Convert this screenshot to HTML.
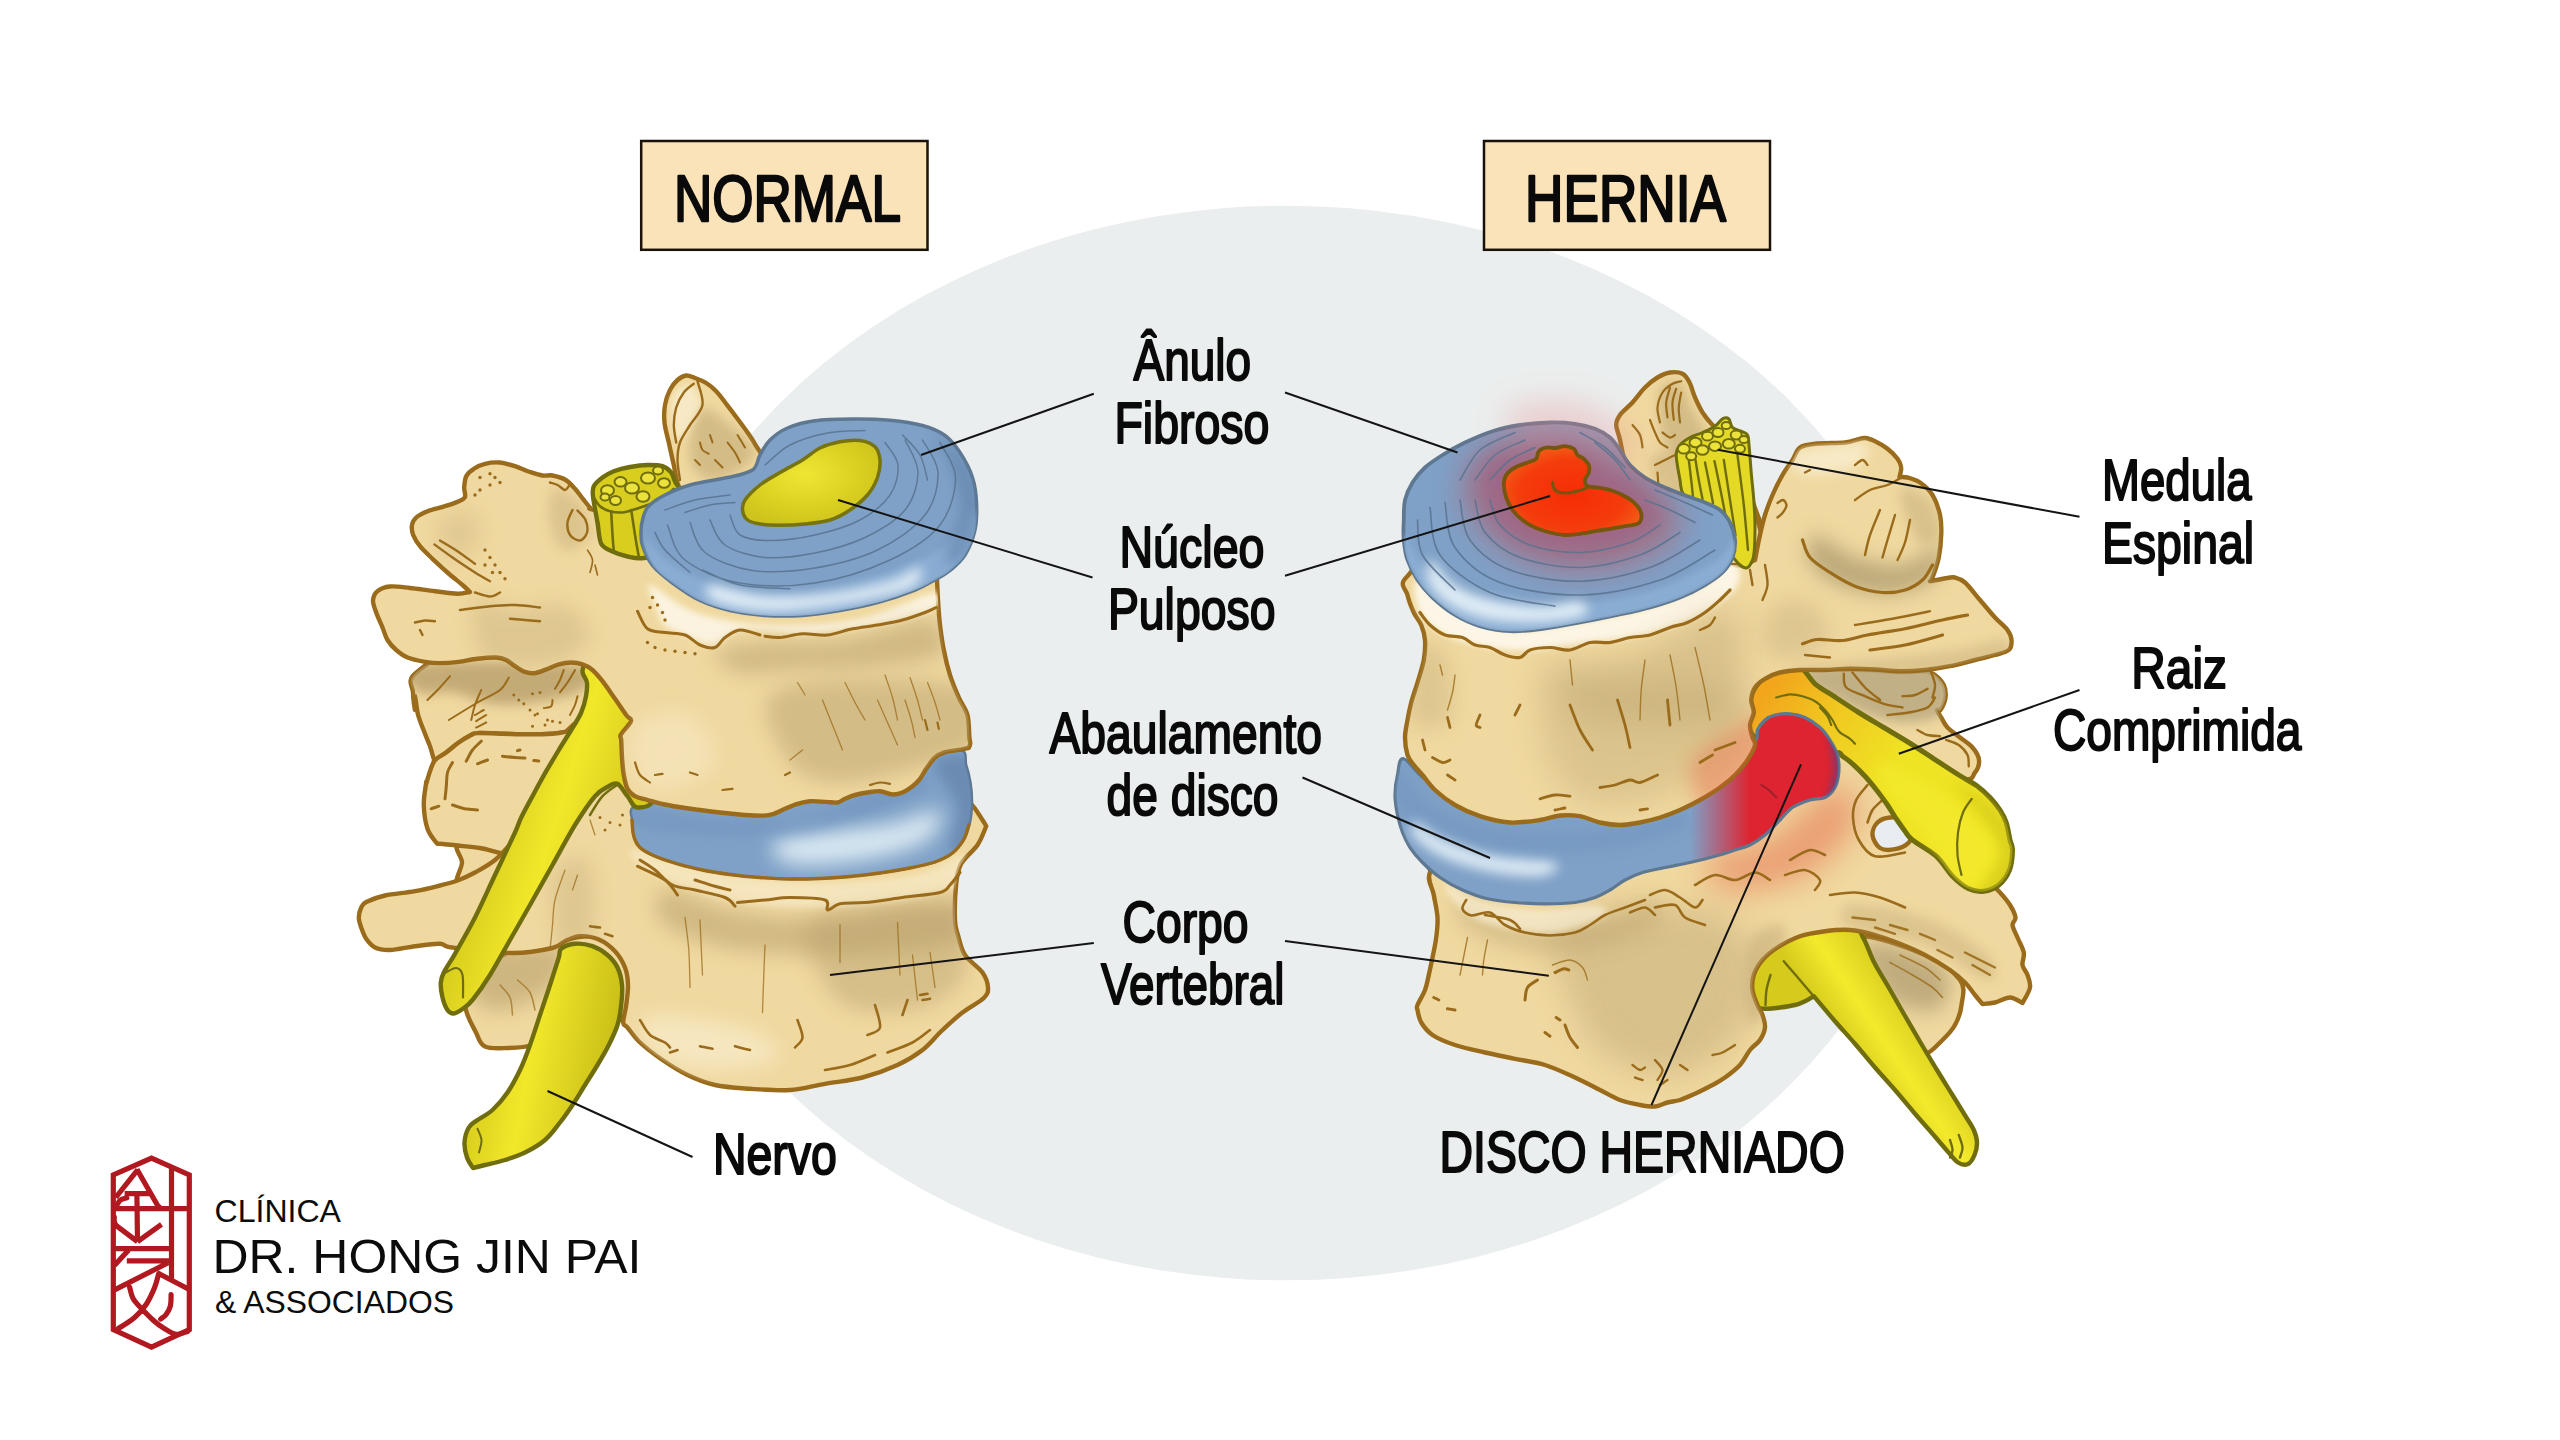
<!DOCTYPE html>
<html lang="pt-BR"><head><meta charset="utf-8"><title>Hernia de disco</title>
<style>html,body{margin:0;padding:0;background:#fff}body{width:2560px;height:1440px;overflow:hidden}svg{display:block}</style>
</head><body>
<svg width="2560" height="1440" viewBox="0 0 2560 1440">
<rect width="2560" height="1440" fill="#ffffff"/><ellipse cx="1286" cy="743" rx="653.5" ry="537.3" fill="#ebeeee"/>
<defs><filter id="b3" x="-30%" y="-30%" width="160%" height="160%"><feGaussianBlur stdDeviation="3"/></filter><filter id="b6" x="-30%" y="-30%" width="160%" height="160%"><feGaussianBlur stdDeviation="6"/></filter><filter id="b10" x="-40%" y="-40%" width="180%" height="180%"><feGaussianBlur stdDeviation="10"/></filter><filter id="b16" x="-50%" y="-50%" width="200%" height="200%"><feGaussianBlur stdDeviation="16"/></filter><radialGradient id="nucg" cx="0.45" cy="0.4" r="0.6"><stop offset="0" stop-color="#efe634"/><stop offset="0.6" stop-color="#dcd222"/><stop offset="1" stop-color="#cfc41c"/></radialGradient><linearGradient id="nrv1" x1="0.2" y1="0.3" x2="0.8" y2="0.6"><stop offset="0" stop-color="#cfc418"/><stop offset="0.55" stop-color="#f2e82a"/><stop offset="1" stop-color="#d6cb1c"/></linearGradient><linearGradient id="nrv2" x1="0.1" y1="0.4" x2="0.9" y2="0.6"><stop offset="0" stop-color="#d8cd1c"/><stop offset="0.4" stop-color="#f2e82a"/><stop offset="1" stop-color="#cbc018"/></linearGradient><clipPath id="cL_low"><path d="M366.2 902C370.2 900 376.9 897.3 385 895.5C393.1 893.7 405.8 892.9 415 891.2C424.2 889.6 432.9 887.3 440 885.5C447.1 883.7 451.7 882.7 457.5 880.5C463.3 878.3 468.8 875.9 475 872.5C481.2 869.1 488.3 865.4 495 860C501.7 854.6 503.3 850.8 515 840C526.7 829.2 548.3 804.6 565 795C581.7 785.4 594.2 784.6 615 782.5C635.8 780.4 635.8 783.8 690 782.5C744.2 781.2 893.3 771.7 940 775C986.7 778.3 962.9 795 970 802.5C977.1 810 979.8 816 982.5 820C985.2 824 985.6 825.2 986.2 826.2C984.8 829.4 981.7 838.8 977.5 845C973.3 851.2 964.8 857.3 961.2 863.8C957.7 870.2 957.3 874.4 956.2 883.8C955.2 893.1 954.7 911.5 955 920C955.3 928.5 956.3 929.2 958 935C959.7 940.8 960.9 948.8 965 955C969.1 961.2 978.7 967.1 982.5 972.5C986.3 977.9 987.8 983.2 988 987.5C988.2 991.8 988 993.8 983.8 998C979.5 1002.2 969.4 1007.2 962.5 1012.5C955.6 1017.8 949.2 1023.8 942.5 1030C935.8 1036.2 930 1044.2 922.5 1050C915 1055.8 907.5 1060.4 897.5 1065C887.5 1069.6 874.6 1074.4 862.5 1077.5C850.4 1080.6 837.1 1081.7 825 1083.8C812.9 1085.8 802.5 1089.2 790 1090C777.5 1090.8 762.5 1089.6 750 1088.8C737.5 1087.9 725.4 1087.3 715 1085C704.6 1082.7 696.2 1079.2 687.5 1075C678.8 1070.8 670.4 1065.4 662.5 1060C654.6 1054.6 645.8 1047.9 640 1042.5C634.2 1037.1 630.3 1030.8 627.5 1027.5C624.7 1024.2 623.5 1026.2 623.2 1022.5C623 1018.8 625.5 1011.2 626.2 1005C627 998.8 628.2 991.2 628 985C627.8 978.8 627.2 973.1 625 967.5C622.8 961.9 619.4 955.9 615 951.2C610.6 946.6 604.6 942 598.8 939.5C592.9 937 585.6 936 580 936.2C574.4 936.5 569.6 939.3 565 941.2C560.4 943.2 561.2 946 552.5 948C543.8 950 529.2 953.1 512.5 953C495.8 952.9 464.6 949 452.5 947.5C440.4 946 446.2 944 440 943.8C433.8 943.5 423.3 945.2 415 946.2C406.7 947.3 396.7 949.8 390 950C383.3 950.2 379 949.4 375 947.5C371 945.6 368.5 942.1 366.2 938.8C364 935.4 362.5 931 361.2 927.5C360 924 358.8 920.8 358.8 917.5C358.8 914.2 360 910.1 361.2 907.5C362.5 904.9 362.3 904 366.2 902Z"/></clipPath><clipPath id="cL_up"><path d="M373 600.5C373.2 597 374.7 593.6 377.5 591.2C380.3 588.9 384.6 587 390 586.5C395.4 586 402.5 587.2 410 588C417.5 588.8 427.1 590.3 435 591.2C442.9 592.2 451.7 593.6 457.5 593.8C463.3 593.9 467.9 592.3 470 592C468.8 590.8 466.2 588.2 462.5 585C458.8 581.8 452.5 576.9 447.5 572.5C442.5 568.1 437.1 563.1 432.5 558.8C427.9 554.4 423.2 550.2 420 546.2C416.8 542.3 414.6 538.5 413.2 535C411.9 531.5 411.5 527.9 412 525C412.5 522.1 413.7 519.8 416.2 517.5C418.8 515.2 422.7 513.1 427.5 511.2C432.3 509.4 439.8 507.9 445 506.2C450.2 504.6 455.4 502.8 458.8 501.2C462.1 499.7 464.1 499.3 465 497C465.9 494.7 464 491 464.2 487.5C464.5 484 464.7 479.4 466.2 476.2C467.8 473.1 470.6 470.8 473.8 468.8C476.9 466.7 480.6 464.8 485 463.8C489.4 462.7 495 462.1 500 462.5C505 462.9 510 464.7 515 466.2C520 467.8 525.4 470.5 530 472C534.6 473.5 538.8 474.9 542.5 475.5C546.2 476.1 548.8 474.8 552.5 475.5C556.2 476.2 561.2 477.3 565 479.5C568.8 481.7 571.9 485.3 575 488.8C578.1 492.2 581.2 496.9 583.8 500C586.2 503.1 588.3 505.8 590 507.5C591.7 509.2 585.4 507.5 593.8 510C602.1 512.5 619.8 522.5 640 522.5C660.2 522.5 681.7 516.2 715 510C748.3 503.8 803.3 480.8 840 485C876.7 489.2 918.8 519.2 935 535C951.2 550.8 936.5 568.7 937 579.5C937.5 590.3 937.5 592.4 938 600C938.5 607.6 939 616.7 940 625C941 633.3 942.1 641.7 943.8 650C945.4 658.3 947.5 667.1 950 675C952.5 682.9 955.8 690.8 958.8 697.5C961.7 704.2 965.7 708.3 967.5 715C969.3 721.7 968.9 732.7 969.4 737.5C969.8 742.3 970.4 742 970.2 743.8C970.1 745.5 969 747.1 968.8 747.8C966.9 748.2 961.5 749.5 957.5 750.2C953.5 751 948.8 751 945 752.2C941.2 753.5 938.1 754.8 935 757.5C931.9 760.2 928.8 765.2 926.2 768.8C923.8 772.3 922.3 775.8 920 778.8C917.7 781.7 915.4 784 912.5 786.2C909.6 788.5 905.8 791.1 902.5 792.5C899.2 793.9 896.2 794.6 892.5 794.4C888.8 794.2 884.2 791.6 880 791.2C875.8 790.9 871.7 791.9 867.5 792.5C863.3 793.1 858.8 794 855 795C851.2 796 847.9 797.5 845 798.8C842.1 800 840.6 802 837.5 802.5C834.4 803 830.8 802.1 826.2 801.9C821.7 801.7 814.8 800.9 810 801.2C805.2 801.6 801.7 802.5 797.5 803.8C793.3 805 789 807.1 785 808.8C781 810.4 777.3 812.6 773.8 813.8C770.2 814.9 768.5 815.4 763.8 815.6C759 815.8 752.3 815.5 745 815C737.7 814.5 727.5 813.3 720 812.5C712.5 811.7 705.8 810.8 700 810C694.2 809.2 690.8 808.9 685 808C679.2 807.1 671.2 805.8 665 804.5C658.8 803.2 652.5 801.4 647.5 800C642.5 798.6 638.3 798.1 635 796.2C631.7 794.4 629.4 792.3 627.5 788.8C625.6 785.2 624.7 780.2 623.8 775C622.8 769.8 622.4 763.3 622 757.5C621.6 751.7 621.5 743.8 621.2 740C621 736.2 619.6 737.3 620.6 735C621.7 732.7 625.7 728.8 627.5 726.2C629.3 723.8 631.5 721.9 631.2 720C631 718.1 629 718.5 626.2 715C623.5 711.5 619 704.4 615 698.8C611 693.1 606.2 686 602.5 681.2C598.8 676.5 595.8 672.8 592.5 670C589.2 667.2 586 665.6 582.5 664.4C579 663.1 575.2 662.5 571.2 662.5C567.3 662.5 562.9 663.2 558.8 664.4C554.6 665.5 550.2 667.9 546.2 669.4C542.3 670.8 538.5 672.7 535 673.1C531.5 673.5 528.3 673 525 671.9C521.7 670.7 518.1 668.2 515 666.2C511.9 664.3 509.4 661.5 506.2 660C503.1 658.5 501 657.7 496.2 657.5C491.5 657.3 483.8 658 477.5 658.8C471.2 659.5 465 661.1 458.8 661.9C452.5 662.6 445.6 663.1 440 663.1C434.4 663.1 430.4 662.8 425 661.9C419.6 660.9 412.3 659.5 407.5 657.5C402.7 655.5 399.6 652.9 396.2 650C392.9 647.1 389.8 643.8 387.5 640C385.2 636.2 384.4 632.1 382.5 627.5C380.6 622.9 377.8 617 376.2 612.5C374.7 608 372.8 604 373 600.5Z"/></clipPath><clipPath id="cL_ud"><path d="M642.5 520C643.6 516 644.2 511.5 647.5 507.5C650.8 503.5 655.4 500 662.5 496.2C669.6 492.5 679.2 488.1 690 485C700.8 481.9 717.1 480 727.5 477.5C737.9 475 747.1 473.8 752.5 470C757.9 466.2 757.1 460 760 455C762.9 450 765.4 444.5 770 440C774.6 435.5 780 431.2 787.5 428C795 424.8 804.2 422.2 815 420.8C825.8 419.2 840 419.1 852.5 419C865 418.9 878.3 419.2 890 420.2C901.7 421.3 913.3 423 922.5 425.5C931.7 428 938.8 431 945 435.5C951.2 440 955.4 445.5 960 452.5C964.6 459.5 969.8 469.2 972.5 477.5C975.2 485.8 976.1 493.8 976.5 502.5C976.9 511.2 976.9 521.2 975 530C973.1 538.8 969.2 548.2 965 555C960.8 561.8 954.8 566.5 950 570.5C945.2 574.5 942.1 576 936.2 579.2C930.4 582.5 924.8 586.1 915 590C905.2 593.9 890 599.1 877.5 602.5C865 605.9 852.5 608.3 840 610.5C827.5 612.7 815 614.7 802.5 615.5C790 616.3 777.1 616.3 765 615.5C752.9 614.7 740.8 613 730 610.5C719.2 608 709.6 605.1 700 600.5C690.4 595.9 680.4 588.8 672.5 583C664.6 577.2 657.5 571.8 652.5 565.5C647.5 559.2 644.4 551.2 642.5 545.5C640.6 539.8 641 535.5 641 531.2C641 527 641.4 524 642.5 520Z"/></clipPath><clipPath id="cL_md"><path d="M633.8 806.2C628.2 810.8 632 815 632 820C632 825 632.4 831.7 633.8 836.2C635.1 840.8 636.5 844.2 640 847.5C643.5 850.8 648.8 853.5 655 856.2C661.2 859 669.6 861.5 677.5 863.8C685.4 866 693.8 868.2 702.5 870C711.2 871.8 720.4 873.2 730 874.5C739.6 875.8 750 876.8 760 877.5C770 878.2 780 878.8 790 879C800 879.2 810 878.9 820 878.5C830 878.1 840 877.4 850 876.5C860 875.6 870 874.4 880 873C890 871.6 900.8 869.8 910 868C919.2 866.2 927.9 864.5 935 862C942.1 859.5 947.7 856.8 952.5 853C957.3 849.2 960.8 844.6 963.8 839.5C966.7 834.4 968.6 828.7 970 822.5C971.4 816.3 971.9 809.2 972 802.5C972.1 795.8 971.5 788.8 970.5 782.5C969.5 776.2 968 770.4 966.2 765C964.5 759.6 968.5 751.2 960 750C951.5 748.8 943.3 750 915 757.5C886.7 765 831.7 789.2 790 795C748.3 800.8 691 790.6 665 792.5C639 794.4 639.2 801.7 633.8 806.2Z"/></clipPath><clipPath id="cL_b1"><path d="M415 673.8C406.3 681.2 413 686.5 413 692.5C413 698.5 414.7 709.4 415 710C415.3 710.6 414.5 695.4 415 696.2C415.5 697.1 416.5 708.8 418.1 715C419.8 721.2 423 728.5 425 733.8C427 739 428.5 742.1 430 746.2C431.5 750.4 432.9 756.4 433.8 758.8C434.6 761.1 432.9 761.3 435 760.2C437.1 759.2 442.3 755.5 446.2 752.5C450.2 749.5 454.6 745.4 458.8 742.5C462.9 739.6 468.1 736.6 471.2 735C474.4 733.4 472.3 733.3 477.5 733.1C482.7 732.9 494.2 733.5 502.5 733.8C510.8 734 519.2 734.4 527.5 734.4C535.8 734.4 546.2 734.2 552.5 733.8C558.8 733.3 560.8 733.1 565 731.9C569.2 730.6 573.3 733.2 577.5 726.2C581.7 719.3 587.9 700.2 590 690C592.1 679.8 594.2 672.1 590 665C585.8 657.9 585.8 650.4 565 647.5C544.2 644.6 490 643.1 465 647.5C440 651.9 423.7 666.2 415 673.8Z"/></clipPath><clipPath id="cL_b2"><path d="M435 760.2C437.7 757.1 442.3 755.5 446.2 752.5C450.2 749.5 454.6 745.4 458.8 742.5C462.9 739.6 468.1 736.6 471.2 735C474.4 733.4 472.3 733.3 477.5 733.1C482.7 732.9 494.2 733.5 502.5 733.8C510.8 734 519.2 734.4 527.5 734.4C535.8 734.4 546.2 734.2 552.5 733.8C558.8 733.3 560.8 732.9 565 731.9C569.2 730.8 577.5 716.1 577.5 727.5C577.5 738.9 575.4 778.8 565 800C554.6 821.2 525.8 846.2 515 855C504.2 863.8 505.8 854.2 500 853C494.2 851.8 487.1 849.2 480 848C472.9 846.8 464.2 846.2 457.5 845.5C450.8 844.8 443.5 844.2 440 843.8C436.5 843.2 438.3 845 436.2 842.5C434.2 840 429.6 835 427.5 828.8C425.4 822.5 424 812.7 423.8 805C423.5 797.3 425.8 786 426.2 782.5C426.7 779 425.6 785.6 426.2 783.8C426.9 781.9 428.5 775.2 430 771.2C431.5 767.3 432.3 763.4 435 760.2Z"/></clipPath><clipPath id="cL_sa"><path d="M678.8 486.2C676 481.2 675.4 472.3 673.8 465C672.1 457.7 670.3 449.6 668.8 442.5C667.2 435.4 665.1 428.8 664.5 422.5C663.9 416.2 664.1 410.4 665 405C665.9 399.6 667.9 394.2 670 390C672.1 385.8 674.8 382.4 677.5 380C680.2 377.6 683.3 375.8 686.2 375.5C689.2 375.2 691.7 376.8 695 378C698.3 379.2 702.7 380.8 706.2 383C709.8 385.2 712.9 387.8 716.2 391.2C719.6 394.7 722.7 399.2 726.2 403.8C729.8 408.3 734 414 737.5 418.8C741 423.5 744.5 428.1 747.5 432.5C750.5 436.9 752.6 439.6 755.5 445C758.4 450.4 765.9 457.5 765 465C764.1 472.5 758.3 485 750 490C741.7 495 725 494.2 715 495C705 495.8 696 496.5 690 495C684 493.5 681.5 491.2 678.8 486.2Z"/></clipPath><clipPath id="cL_bl"><path d="M465.5 1006.2C465.3 997.4 467.6 989.2 475 980C482.4 970.8 495.4 957.9 510 951.2C524.6 944.6 547.5 942.3 562.5 940C577.5 937.7 589.6 933.8 600 937.5C610.4 941.2 620.2 953.3 625 962.5C629.8 971.7 629.6 982.9 628.8 992.5C627.9 1002.1 629 1013.8 620 1020C611 1026.2 587.9 1027.5 575 1030C562.1 1032.5 549.6 1032.5 542.5 1035C535.4 1037.5 538.3 1042.8 532.5 1045C526.7 1047.2 515.4 1047.8 507.5 1048C499.6 1048.2 490.2 1049 485 1046.5C479.8 1044 479.5 1039.7 476.2 1033C473 1026.3 465.7 1015.1 465.5 1006.2Z"/></clipPath><clipPath id="cL_n1"><path d="M582.5 671.2C582.2 675.2 586.3 678.3 586.9 682.5C587.5 686.7 586.9 691.2 586 696.2C585.1 701.2 583.7 706.9 581.2 712.5C578.8 718.1 575 723.8 571.2 730C567.5 736.2 562.9 743.1 558.8 750C554.6 756.9 550.4 764 546.2 771.2C542.1 778.5 537.9 786 533.8 793.8C529.6 801.5 524.4 811 521.2 817.5C518.1 824 519.4 822.9 515 832.5C510.6 842.1 501.7 860.8 495 875C488.3 889.2 481.7 904.4 475 917.5C468.3 930.6 460.2 944.6 455 953.8C449.8 962.9 446.1 967.7 443.8 972.5C441.4 977.3 441 978.3 440.8 982.5C440.5 986.7 441.4 992.9 442.5 997.5C443.6 1002.1 445.6 1007.3 447.5 1010C449.4 1012.7 451.2 1013.7 453.8 1013.5C456.2 1013.3 459.4 1011.2 462.5 1009C465.6 1006.8 467.9 1005.7 472.5 1000C477.1 994.3 483.8 985 490 975C496.2 965 503.3 951.7 510 940C516.7 928.3 522.9 917.5 530 905C537.1 892.5 545 878.3 552.5 865C560 851.7 567.9 836.5 575 825C582.1 813.5 589.4 802.7 595 796.2C600.6 789.8 605 788.3 608.8 786.2C612.5 784.2 614.4 782.1 617.5 783.8C620.6 785.4 624.2 792.3 627.5 796.2C630.8 800.2 632.9 807.7 637.5 807.5C642.1 807.3 652.1 808.8 655 795C657.9 781.2 656.5 738.3 655 725C653.5 711.7 652.9 725 646.2 715C639.6 705 624.6 674.4 615 665C605.4 655.6 594.2 657.7 588.8 658.8C583.3 659.8 582.8 667.3 582.5 671.2Z"/></clipPath><clipPath id="cL_n2"><path d="M561.2 948.8C564 946.5 569.8 944.2 575 943.8C580.2 943.3 587.1 944.4 592.5 946.2C597.9 948.1 603.3 951.5 607.5 955C611.7 958.5 615.1 962.5 617.5 967.5C619.9 972.5 621.4 978.8 622 985C622.6 991.2 622 998.3 621.2 1005C620.5 1011.7 619.6 1018.3 617.5 1025C615.4 1031.7 612.1 1038.3 608.8 1045C605.4 1051.7 601.5 1058.3 597.5 1065C593.5 1071.7 589.2 1078.3 585 1085C580.8 1091.7 576.7 1098.8 572.5 1105C568.3 1111.2 564.6 1116.7 560 1122.5C555.4 1128.3 550.8 1135 545 1140C539.2 1145 531.7 1149.2 525 1152.5C518.3 1155.8 511.7 1157.9 505 1160C498.3 1162.1 490.3 1163.7 485 1165C479.7 1166.3 475 1167.5 473 1168C472 1166.2 468.4 1161.8 467 1157.5C465.6 1153.2 464.2 1147.5 464.5 1142.5C464.8 1137.5 466.6 1131.2 468.8 1127.5C470.9 1123.8 473.5 1122.9 477.5 1120C481.5 1117.1 487.5 1114.6 492.5 1110C497.5 1105.4 502.9 1099.2 507.5 1092.5C512.1 1085.8 516.2 1077.9 520 1070C523.8 1062.1 526.7 1054.2 530 1045C533.3 1035.8 536.7 1025 540 1015C543.3 1005 546.9 994.6 550 985C553.1 975.4 556.9 963.5 558.8 957.5C560.6 951.5 558.5 951 561.2 948.8Z"/></clipPath></defs>
<g id="leftfig">
<path d="M465.5 1006.2C465.3 997.4 467.6 989.2 475 980C482.4 970.8 495.4 957.9 510 951.2C524.6 944.6 547.5 942.3 562.5 940C577.5 937.7 589.6 933.8 600 937.5C610.4 941.2 620.2 953.3 625 962.5C629.8 971.7 629.6 982.9 628.8 992.5C627.9 1002.1 629 1013.8 620 1020C611 1026.2 587.9 1027.5 575 1030C562.1 1032.5 549.6 1032.5 542.5 1035C535.4 1037.5 538.3 1042.8 532.5 1045C526.7 1047.2 515.4 1047.8 507.5 1048C499.6 1048.2 490.2 1049 485 1046.5C479.8 1044 479.5 1039.7 476.2 1033C473 1026.3 465.7 1015.1 465.5 1006.2Z" fill="#f0d9a0" stroke="#9a6b1b" stroke-width="4.4" stroke-linejoin="round" stroke-linecap="round" />
<g clip-path="url(#cL_bl)"><path d="M470 955C484.2 945.8 545.8 940 560 945C574.2 950 564.2 974.2 555 985C545.8 995.8 518.3 1007.5 505 1010C491.7 1012.5 480.8 1009.2 475 1000C469.2 990.8 455.8 964.2 470 955Z" fill="#b89f6c" opacity="0.6" filter="url(#b10)"/></g>
<path d="M500 985C501.7 987.1 507.9 992.5 510 997.5C512.1 1002.5 512.1 1012.1 512.5 1015 M517.5 980C519.6 982.1 527.1 987.5 530 992.5C532.9 997.5 534.2 1007.1 535 1010" fill="none" stroke="#9a6b1b" stroke-width="1.5" stroke-linecap="round" stroke-linejoin="round" opacity="0.7"/>
<path d="M459.5 843.8C467.5 840.6 502.4 841 510 843.8C517.6 846.5 510 854.6 505 860C500 865.4 487.9 872.6 480 876.2C472.1 879.9 460.5 884.3 457.5 882C454.5 879.7 461.7 868.9 462 862.5C462.3 856.1 451.5 846.9 459.5 843.8Z" fill="#f0d9a0" stroke="#9a6b1b" stroke-width="4.4" stroke-linejoin="round" stroke-linecap="round" />
<path d="M415 673.8C406.3 681.2 413 686.5 413 692.5C413 698.5 414.7 709.4 415 710C415.3 710.6 414.5 695.4 415 696.2C415.5 697.1 416.5 708.8 418.1 715C419.8 721.2 423 728.5 425 733.8C427 739 428.5 742.1 430 746.2C431.5 750.4 432.9 756.4 433.8 758.8C434.6 761.1 432.9 761.3 435 760.2C437.1 759.2 442.3 755.5 446.2 752.5C450.2 749.5 454.6 745.4 458.8 742.5C462.9 739.6 468.1 736.6 471.2 735C474.4 733.4 472.3 733.3 477.5 733.1C482.7 732.9 494.2 733.5 502.5 733.8C510.8 734 519.2 734.4 527.5 734.4C535.8 734.4 546.2 734.2 552.5 733.8C558.8 733.3 560.8 733.1 565 731.9C569.2 730.6 573.3 733.2 577.5 726.2C581.7 719.3 587.9 700.2 590 690C592.1 679.8 594.2 672.1 590 665C585.8 657.9 585.8 650.4 565 647.5C544.2 644.6 490 643.1 465 647.5C440 651.9 423.7 666.2 415 673.8Z" fill="#f0d9a0" stroke="#9a6b1b" stroke-width="4.4" stroke-linejoin="round" stroke-linecap="round" />
<g clip-path="url(#cL_b1)"><path d="M415 665C441.2 660.4 550.4 660.4 577.5 665C604.6 669.6 590 685.8 577.5 692.5C565 699.2 523.3 705 502.5 705C481.7 705 466.2 694.6 452.5 692.5C438.8 690.4 426.2 697.1 420 692.5C413.8 687.9 388.8 669.6 415 665Z" fill="#b89f6c" opacity="0.8" filter="url(#b6)"/></g>
<path d="M450 676.2C448.3 678.1 443.8 683.5 440 687.5C436.2 691.5 429.6 697.9 427.5 700 M508.8 677.5C507.3 679.6 505.2 685.8 500 690C494.8 694.2 486 697.5 477.5 702.5C469 707.5 453.5 717.1 448.8 720 M481.2 690C480.2 692.5 476.7 700 475 705C473.3 710 471.9 717.5 471.2 720 M483.8 710C482.3 710.8 476.5 714.2 475 715 M486.2 715C484.6 716 477.9 720.2 476.2 721.2 M486.2 722.5C484.6 723.3 477.9 726.7 476.2 727.5 M563.8 670C563.1 671.7 561.5 676.9 560 680C558.5 683.1 555.8 687.3 555 688.8 M575 670C573.8 672.1 570 678.8 567.5 682.5C565 686.2 561.2 690.8 560 692.5 M552.5 700C552.3 701 552.7 704.9 551.2 706.2C549.8 707.6 545 707.8 543.8 708.1 M577.5 696.2C577.1 697.7 576.2 701.9 575 705C573.8 708.1 570.8 713.3 570 715" fill="none" stroke="#9a6b1b" stroke-width="2" stroke-linecap="round" stroke-linejoin="round" opacity="1"/>
<circle cx="513.8" cy="695.0" r="1.5" fill="#9a6b1b"/><circle cx="518.8" cy="700.0" r="1.5" fill="#9a6b1b"/><circle cx="523.8" cy="703.8" r="1.5" fill="#9a6b1b"/><circle cx="530.0" cy="710.0" r="1.5" fill="#9a6b1b"/><circle cx="535.0" cy="715.0" r="1.5" fill="#9a6b1b"/><circle cx="532.5" cy="726.2" r="1.5" fill="#9a6b1b"/><circle cx="545.0" cy="725.0" r="1.5" fill="#9a6b1b"/><circle cx="552.5" cy="721.2" r="1.5" fill="#9a6b1b"/><circle cx="560.0" cy="722.5" r="1.5" fill="#9a6b1b"/><circle cx="540.0" cy="692.5" r="1.5" fill="#9a6b1b"/><circle cx="532.5" cy="693.8" r="1.5" fill="#9a6b1b"/><circle cx="537.5" cy="713.8" r="1.5" fill="#9a6b1b"/><circle cx="547.5" cy="720.0" r="1.5" fill="#9a6b1b"/>
<path d="M435 760.2C437.7 757.1 442.3 755.5 446.2 752.5C450.2 749.5 454.6 745.4 458.8 742.5C462.9 739.6 468.1 736.6 471.2 735C474.4 733.4 472.3 733.3 477.5 733.1C482.7 732.9 494.2 733.5 502.5 733.8C510.8 734 519.2 734.4 527.5 734.4C535.8 734.4 546.2 734.2 552.5 733.8C558.8 733.3 560.8 732.9 565 731.9C569.2 730.8 577.5 716.1 577.5 727.5C577.5 738.9 575.4 778.8 565 800C554.6 821.2 525.8 846.2 515 855C504.2 863.8 505.8 854.2 500 853C494.2 851.8 487.1 849.2 480 848C472.9 846.8 464.2 846.2 457.5 845.5C450.8 844.8 443.5 844.2 440 843.8C436.5 843.2 438.3 845 436.2 842.5C434.2 840 429.6 835 427.5 828.8C425.4 822.5 424 812.7 423.8 805C423.5 797.3 425.8 786 426.2 782.5C426.7 779 425.6 785.6 426.2 783.8C426.9 781.9 428.5 775.2 430 771.2C431.5 767.3 432.3 763.4 435 760.2Z" fill="#f0d9a0" stroke="#9a6b1b" stroke-width="4.4" stroke-linejoin="round" stroke-linecap="round" />
<path d="M481.2 741.2C479.8 742.7 475 746.7 472.5 750C470 753.3 467.3 759.4 466.2 761.2 M452.5 762.5C451.7 764.2 448.5 768.3 447.5 772.5C446.5 776.7 446.7 783.1 446.2 787.5C445.8 791.9 445.2 796.9 445 798.8 M502.5 756.2C504.6 756.5 511.2 757.2 515 757.5C518.8 757.8 523.3 758 525 758.1 M452.5 805C454.6 805.6 460.8 807.9 465 808.8C469.2 809.6 475.4 809.8 477.5 810 M431.2 808.8C432.5 808.3 437.5 806.7 438.8 806.2 M520 750C519.6 750.1 517.9 750.5 517.5 750.6 M477.5 763.8C479.2 763.1 485.8 760.6 487.5 760 M533.8 760.6C534.6 760.7 537.9 760.9 538.8 761" fill="none" stroke="#9a6b1b" stroke-width="3" stroke-linecap="round" stroke-linejoin="round" opacity="1"/>
<path d="M366.2 902C370.2 900 376.9 897.3 385 895.5C393.1 893.7 405.8 892.9 415 891.2C424.2 889.6 432.9 887.3 440 885.5C447.1 883.7 451.7 882.7 457.5 880.5C463.3 878.3 468.8 875.9 475 872.5C481.2 869.1 488.3 865.4 495 860C501.7 854.6 503.3 850.8 515 840C526.7 829.2 548.3 804.6 565 795C581.7 785.4 594.2 784.6 615 782.5C635.8 780.4 635.8 783.8 690 782.5C744.2 781.2 893.3 771.7 940 775C986.7 778.3 962.9 795 970 802.5C977.1 810 979.8 816 982.5 820C985.2 824 985.6 825.2 986.2 826.2C984.8 829.4 981.7 838.8 977.5 845C973.3 851.2 964.8 857.3 961.2 863.8C957.7 870.2 957.3 874.4 956.2 883.8C955.2 893.1 954.7 911.5 955 920C955.3 928.5 956.3 929.2 958 935C959.7 940.8 960.9 948.8 965 955C969.1 961.2 978.7 967.1 982.5 972.5C986.3 977.9 987.8 983.2 988 987.5C988.2 991.8 988 993.8 983.8 998C979.5 1002.2 969.4 1007.2 962.5 1012.5C955.6 1017.8 949.2 1023.8 942.5 1030C935.8 1036.2 930 1044.2 922.5 1050C915 1055.8 907.5 1060.4 897.5 1065C887.5 1069.6 874.6 1074.4 862.5 1077.5C850.4 1080.6 837.1 1081.7 825 1083.8C812.9 1085.8 802.5 1089.2 790 1090C777.5 1090.8 762.5 1089.6 750 1088.8C737.5 1087.9 725.4 1087.3 715 1085C704.6 1082.7 696.2 1079.2 687.5 1075C678.8 1070.8 670.4 1065.4 662.5 1060C654.6 1054.6 645.8 1047.9 640 1042.5C634.2 1037.1 630.3 1030.8 627.5 1027.5C624.7 1024.2 623.5 1026.2 623.2 1022.5C623 1018.8 625.5 1011.2 626.2 1005C627 998.8 628.2 991.2 628 985C627.8 978.8 627.2 973.1 625 967.5C622.8 961.9 619.4 955.9 615 951.2C610.6 946.6 604.6 942 598.8 939.5C592.9 937 585.6 936 580 936.2C574.4 936.5 569.6 939.3 565 941.2C560.4 943.2 561.2 946 552.5 948C543.8 950 529.2 953.1 512.5 953C495.8 952.9 464.6 949 452.5 947.5C440.4 946 446.2 944 440 943.8C433.8 943.5 423.3 945.2 415 946.2C406.7 947.3 396.7 949.8 390 950C383.3 950.2 379 949.4 375 947.5C371 945.6 368.5 942.1 366.2 938.8C364 935.4 362.5 931 361.2 927.5C360 924 358.8 920.8 358.8 917.5C358.8 914.2 360 910.1 361.2 907.5C362.5 904.9 362.3 904 366.2 902Z" fill="#f0d9a0" stroke="#9a6b1b" stroke-width="4.4" stroke-linejoin="round" stroke-linecap="round" />
<g clip-path="url(#cL_low)"><path d="M665 890C677.5 887.9 710.8 907.9 740 912.5C769.2 917.1 803.3 920 840 917.5C876.7 915 940 893.8 960 897.5C980 901.2 975.8 930.4 960 940C944.2 949.6 901.7 953.3 865 955C828.3 956.7 773.3 955 740 950C706.7 945 677.5 935 665 925C652.5 915 652.5 892.1 665 890Z" fill="#b89f6c" opacity="0.55" filter="url(#b10)"/><path d="M812.5 917.5C831.2 902.5 924.6 900.4 950 910C975.4 919.6 971.2 958.3 965 975C958.8 991.7 933.8 1005.8 912.5 1010C891.2 1014.2 854.2 1015.4 837.5 1000C820.8 984.6 793.8 932.5 812.5 917.5Z" fill="#b89f6c" opacity="0.45" filter="url(#b10)"/><path d="M650 1015C666.7 1011.7 729.2 1022.5 750 1030C770.8 1037.5 783.3 1053.3 775 1060C766.7 1066.7 720.8 1071.7 700 1070C679.2 1068.3 658.3 1059.2 650 1050C641.7 1040.8 633.3 1018.3 650 1015Z" fill="#fcf4df" opacity="0.5" filter="url(#b10)"/><path d="M635 850C647.5 851.2 685 867.1 715 872.5C745 877.9 781.7 882.1 815 882.5C848.3 882.9 890.4 879.6 915 875C939.6 870.4 954.2 854.2 962.5 855C970.8 855.8 972.9 872.9 965 880C957.1 887.1 940 892.9 915 897.5C890 902.1 844.2 906.7 815 907.5C785.8 908.3 762.9 906.2 740 902.5C717.1 898.8 694.2 891.2 677.5 885C660.8 878.8 647.1 870.8 640 865C632.9 859.2 622.5 848.8 635 850Z" fill="#fcf4df" opacity="0.45" filter="url(#b3)"/><path d="M552.5 875C557.5 860.4 583.8 850 590 862.5C596.2 875 595 935.4 590 950C585 964.6 566.2 962.5 560 950C553.8 937.5 547.5 889.6 552.5 875Z" fill="#b89f6c" opacity="0.3" filter="url(#b10)"/></g>
<path d="M640 860C642.5 861.7 649.6 865.8 655 870C660.4 874.2 665.8 881.7 672.5 885C679.2 888.3 686.2 887.9 695 890C703.8 892.1 718.3 894.8 725 897.5C731.7 900.2 733.3 904.8 735 906.2 M737.5 902.5C742.1 902.1 756.2 900.8 765 900C773.8 899.2 780 897.5 790 897.5C800 897.5 818.8 897.9 825 900C831.2 902.1 825 909.4 827.5 910C830 910.6 833.8 905 840 903.8C846.2 902.5 854.6 903.5 865 902.5C875.4 901.5 890 899.2 902.5 897.5C915 895.8 932.1 894.6 940 892.5C947.9 890.4 946.7 888.3 950 885C953.3 881.7 958.3 874.6 960 872.5 M637.5 866.2C642.1 868.5 658.3 875.2 665 880C671.7 884.8 675.4 892.5 677.5 895 M695 880C698.3 881 709.2 884.6 715 886.2C720.8 887.9 727.5 889.4 730 890" fill="none" stroke="#9a6b1b" stroke-width="3" stroke-linecap="round" stroke-linejoin="round" opacity="1"/>
<path d="M685 917.5C685.6 922.9 687.9 938.3 688.8 950C689.6 961.7 689.8 981.2 690 987.5 M700 920C700.4 929.2 702.1 965.8 702.5 975 M765 945C764.8 950 764.2 963.8 763.8 975C763.3 986.2 762.7 1006.2 762.5 1012.5 M840 925C840 931.2 840 956.2 840 962.5 M897.5 922.5C897.9 931.2 899.6 966.2 900 975 M912.5 955C913.3 962.5 916.7 992.5 917.5 1000 M930 952.5C930.8 958.3 934.2 981.7 935 987.5 M565 870C563.3 875 557.1 890.8 555 900C552.9 909.2 553.3 916.7 552.5 925C551.7 933.3 550.4 945.8 550 950 M590 820C590.8 822.5 594.2 832.5 595 835 M577.5 875C576.7 877.5 573.3 887.5 572.5 890" fill="none" stroke="#9a6b1b" stroke-width="1.3" stroke-linecap="round" stroke-linejoin="round" opacity="0.75"/>
<path d="M640 1020C641.7 1022.5 645.8 1031.2 650 1035C654.2 1038.8 661.7 1040.4 665 1042.5C668.3 1044.6 669.2 1046.7 670 1047.5 M700 1046.2C702.1 1046.7 710.4 1048.3 712.5 1048.8 M735 1046.2C737.5 1046.9 747.5 1049.4 750 1050 M797.5 1020C798.3 1022.9 802.9 1032.9 802.5 1037.5C802.1 1042.1 796.2 1045.8 795 1047.5 M875 1005C875.8 1008.8 881.2 1022.5 880 1027.5C878.8 1032.5 869.6 1033.8 867.5 1035 M907.5 1000C906.7 1002.5 903.3 1012.5 902.5 1015 M920 995C921.2 994.8 926.2 994 927.5 993.8 M922.5 1000C923.8 999.8 928.8 999 930 998.8 M670 1052.5C671.2 1052.1 676.2 1050.4 677.5 1050 M825 1070C829.2 1069.2 841.7 1067.5 850 1065C858.3 1062.5 870.8 1056.7 875 1055 M887.5 1052.5C891.7 1050.8 905.4 1046.2 912.5 1042.5C919.6 1038.8 927.1 1032.1 930 1030 M590 926.2C591.7 926.5 598.3 927.3 600 927.5 M605 933.8C606.2 934.2 611.2 935.8 612.5 936.2" fill="none" stroke="#9a6b1b" stroke-width="2.6" stroke-linecap="round" stroke-linejoin="round" opacity="1"/>
<circle cx="600.0" cy="817.5" r="1.5" fill="#9a6b1b"/><circle cx="610.0" cy="822.5" r="1.5" fill="#9a6b1b"/><circle cx="620.0" cy="825.0" r="1.5" fill="#9a6b1b"/><circle cx="605.0" cy="830.0" r="1.5" fill="#9a6b1b"/><circle cx="622.5" cy="815.0" r="1.5" fill="#9a6b1b"/>
<path d="M561.2 948.8C564 946.5 569.8 944.2 575 943.8C580.2 943.3 587.1 944.4 592.5 946.2C597.9 948.1 603.3 951.5 607.5 955C611.7 958.5 615.1 962.5 617.5 967.5C619.9 972.5 621.4 978.8 622 985C622.6 991.2 622 998.3 621.2 1005C620.5 1011.7 619.6 1018.3 617.5 1025C615.4 1031.7 612.1 1038.3 608.8 1045C605.4 1051.7 601.5 1058.3 597.5 1065C593.5 1071.7 589.2 1078.3 585 1085C580.8 1091.7 576.7 1098.8 572.5 1105C568.3 1111.2 564.6 1116.7 560 1122.5C555.4 1128.3 550.8 1135 545 1140C539.2 1145 531.7 1149.2 525 1152.5C518.3 1155.8 511.7 1157.9 505 1160C498.3 1162.1 490.3 1163.7 485 1165C479.7 1166.3 475 1167.5 473 1168C472 1166.2 468.4 1161.8 467 1157.5C465.6 1153.2 464.2 1147.5 464.5 1142.5C464.8 1137.5 466.6 1131.2 468.8 1127.5C470.9 1123.8 473.5 1122.9 477.5 1120C481.5 1117.1 487.5 1114.6 492.5 1110C497.5 1105.4 502.9 1099.2 507.5 1092.5C512.1 1085.8 516.2 1077.9 520 1070C523.8 1062.1 526.7 1054.2 530 1045C533.3 1035.8 536.7 1025 540 1015C543.3 1005 546.9 994.6 550 985C553.1 975.4 556.9 963.5 558.8 957.5C560.6 951.5 558.5 951 561.2 948.8Z" fill="url(#nrv2)" stroke="#706d0e" stroke-width="4.4" stroke-linejoin="round" stroke-linecap="round" />
<path d="M477.5 1128.8C478.2 1130.6 481.2 1136 481.5 1140C481.8 1144 479.4 1150.4 479 1152.5" fill="none" stroke="#706d0e" stroke-width="2" stroke-linecap="round" stroke-linejoin="round" opacity="1"/>
<path d="M633.8 806.2C628.2 810.8 632 815 632 820C632 825 632.4 831.7 633.8 836.2C635.1 840.8 636.5 844.2 640 847.5C643.5 850.8 648.8 853.5 655 856.2C661.2 859 669.6 861.5 677.5 863.8C685.4 866 693.8 868.2 702.5 870C711.2 871.8 720.4 873.2 730 874.5C739.6 875.8 750 876.8 760 877.5C770 878.2 780 878.8 790 879C800 879.2 810 878.9 820 878.5C830 878.1 840 877.4 850 876.5C860 875.6 870 874.4 880 873C890 871.6 900.8 869.8 910 868C919.2 866.2 927.9 864.5 935 862C942.1 859.5 947.7 856.8 952.5 853C957.3 849.2 960.8 844.6 963.8 839.5C966.7 834.4 968.6 828.7 970 822.5C971.4 816.3 971.9 809.2 972 802.5C972.1 795.8 971.5 788.8 970.5 782.5C969.5 776.2 968 770.4 966.2 765C964.5 759.6 968.5 751.2 960 750C951.5 748.8 943.3 750 915 757.5C886.7 765 831.7 789.2 790 795C748.3 800.8 691 790.6 665 792.5C639 794.4 639.2 801.7 633.8 806.2Z" fill="#7fa1c7" stroke="#5e7892" stroke-width="2.5" stroke-linejoin="round" stroke-linecap="round" />
<g clip-path="url(#cL_md)"><path d="M777.5 840C787.5 835 821.2 832.7 840 830C858.8 827.3 873.3 827.1 890 823.8C906.7 820.4 933.8 807.3 940 810C946.2 812.7 937.9 832.1 927.5 840C917.1 847.9 896.2 853.3 877.5 857.5C858.8 861.7 831.2 864.6 815 865C798.8 865.4 786.2 864.2 780 860C773.8 855.8 767.5 845 777.5 840Z" fill="#e2f0f6" opacity="0.9" filter="url(#b10)"/><path d="M935 762.5C937.9 755 968.3 749.6 975 762.5C981.7 775.4 979.2 825.4 975 840C970.8 854.6 952.9 855.4 950 850C947.1 844.6 960 822.1 957.5 807.5C955 792.9 932.1 770 935 762.5Z" fill="#5e7ea6" opacity="0.6" filter="url(#b6)"/><path d="M635 807.5C648.3 806.7 685 818.8 715 820C745 821.2 781.7 822.5 815 815C848.3 807.5 898.3 778.3 915 775C931.7 771.7 931.7 785.8 915 795C898.3 804.2 848.3 823.3 815 830C781.7 836.7 745 835.8 715 835C685 834.2 648.3 829.6 635 825C621.7 820.4 621.7 808.3 635 807.5Z" fill="#6f93bd" opacity="0.5" filter="url(#b6)"/></g>
<path d="M632 820C632.3 822.7 632.4 831.7 633.8 836.2C635.1 840.8 636.5 844.2 640 847.5C643.5 850.8 648.8 853.5 655 856.2C661.2 859 669.6 861.5 677.5 863.8C685.4 866 693.8 868.2 702.5 870C711.2 871.8 720.4 873.2 730 874.5C739.6 875.8 750 876.8 760 877.5C770 878.2 780 878.8 790 879C800 879.2 810 878.9 820 878.5C830 878.1 840 877.4 850 876.5C860 875.6 870 874.4 880 873C890 871.6 900.8 869.8 910 868C919.2 866.2 927.9 864.5 935 862C942.1 859.5 947.7 856.8 952.5 853C957.3 849.2 961 844.2 963.8 839.5C966.5 834.8 967.9 827.4 968.8 825" fill="none" stroke="#9a6b1b" stroke-width="3.4" stroke-linecap="round" stroke-linejoin="round" opacity="1"/>
<path d="M582.5 671.2C582.2 675.2 586.3 678.3 586.9 682.5C587.5 686.7 586.9 691.2 586 696.2C585.1 701.2 583.7 706.9 581.2 712.5C578.8 718.1 575 723.8 571.2 730C567.5 736.2 562.9 743.1 558.8 750C554.6 756.9 550.4 764 546.2 771.2C542.1 778.5 537.9 786 533.8 793.8C529.6 801.5 524.4 811 521.2 817.5C518.1 824 519.4 822.9 515 832.5C510.6 842.1 501.7 860.8 495 875C488.3 889.2 481.7 904.4 475 917.5C468.3 930.6 460.2 944.6 455 953.8C449.8 962.9 446.1 967.7 443.8 972.5C441.4 977.3 441 978.3 440.8 982.5C440.5 986.7 441.4 992.9 442.5 997.5C443.6 1002.1 445.6 1007.3 447.5 1010C449.4 1012.7 451.2 1013.7 453.8 1013.5C456.2 1013.3 459.4 1011.2 462.5 1009C465.6 1006.8 467.9 1005.7 472.5 1000C477.1 994.3 483.8 985 490 975C496.2 965 503.3 951.7 510 940C516.7 928.3 522.9 917.5 530 905C537.1 892.5 545 878.3 552.5 865C560 851.7 567.9 836.5 575 825C582.1 813.5 589.4 802.7 595 796.2C600.6 789.8 605 788.3 608.8 786.2C612.5 784.2 614.4 782.1 617.5 783.8C620.6 785.4 624.2 792.3 627.5 796.2C630.8 800.2 632.9 807.7 637.5 807.5C642.1 807.3 652.1 808.8 655 795C657.9 781.2 656.5 738.3 655 725C653.5 711.7 652.9 725 646.2 715C639.6 705 624.6 674.4 615 665C605.4 655.6 594.2 657.7 588.8 658.8C583.3 659.8 582.8 667.3 582.5 671.2Z" fill="url(#nrv1)" stroke="#706d0e" stroke-width="4.4" stroke-linejoin="round" stroke-linecap="round" />
<path d="M445.5 972.5C447.3 971.8 453.4 967.6 456.2 968C459.1 968.4 461.4 970.1 462.5 975C463.6 979.9 462.9 993.8 463 997.5" fill="none" stroke="#706d0e" stroke-width="2.2" stroke-linecap="round" stroke-linejoin="round" opacity="1"/>
<path d="M618.8 783.8C616 785.8 607.3 791 602.5 796.2C597.7 801.5 592.1 811.9 590 815" fill="none" stroke="#706d0e" stroke-width="2.5" stroke-linecap="round" stroke-linejoin="round" opacity="1"/>
<path d="M678.8 486.2C676 481.2 675.4 472.3 673.8 465C672.1 457.7 670.3 449.6 668.8 442.5C667.2 435.4 665.1 428.8 664.5 422.5C663.9 416.2 664.1 410.4 665 405C665.9 399.6 667.9 394.2 670 390C672.1 385.8 674.8 382.4 677.5 380C680.2 377.6 683.3 375.8 686.2 375.5C689.2 375.2 691.7 376.8 695 378C698.3 379.2 702.7 380.8 706.2 383C709.8 385.2 712.9 387.8 716.2 391.2C719.6 394.7 722.7 399.2 726.2 403.8C729.8 408.3 734 414 737.5 418.8C741 423.5 744.5 428.1 747.5 432.5C750.5 436.9 752.6 439.6 755.5 445C758.4 450.4 765.9 457.5 765 465C764.1 472.5 758.3 485 750 490C741.7 495 725 494.2 715 495C705 495.8 696 496.5 690 495C684 493.5 681.5 491.2 678.8 486.2Z" fill="#f0d9a0" stroke="#9a6b1b" stroke-width="4.4" stroke-linejoin="round" stroke-linecap="round" />
<g clip-path="url(#cL_sa)"><path d="M700 410C706.7 404.2 720.8 417.5 730 425C739.2 432.5 757.5 445.8 755 455C752.5 464.2 725.8 479.2 715 480C704.2 480.8 692.5 471.7 690 460C687.5 448.3 693.3 415.8 700 410Z" fill="#b89f6c" opacity="0.5" filter="url(#b6)"/><path d="M672.5 397.5C675 389.2 685.4 383.8 690 385C694.6 386.2 700.8 396.7 700 405C699.2 413.3 689.2 430 685 435C680.8 440 677.1 441.2 675 435C672.9 428.8 670 405.8 672.5 397.5Z" fill="#fcf4df" opacity="0.6" filter="url(#b3)"/></g>
<path d="M676.2 442.5C675.8 439.6 673.8 430.8 673.8 425C673.8 419.2 674.6 412.9 676.2 407.5C677.9 402.1 680.8 396.5 683.8 392.5C686.7 388.5 692.1 385.2 693.8 383.8 M697.5 381.2C698.3 385.2 703.8 397.7 702.5 405C701.2 412.3 693.8 418.8 690 425C686.2 431.2 682.1 436.7 680 442.5C677.9 448.3 677.5 453.8 677.5 460C677.5 466.2 679.6 476.7 680 480" fill="none" stroke="#9a6b1b" stroke-width="2.4" stroke-linecap="round" stroke-linejoin="round" opacity="1"/>
<path d="M700 442.5C700.4 443.8 701 448.1 702.5 450C704 451.9 707.7 453.1 708.8 453.8 M710 435C710.4 436.2 712.1 441.2 712.5 442.5 M727.5 442.5C728.8 444.2 732.9 449.2 735 452.5C737.1 455.8 739.2 460.8 740 462.5 M715 460C716.2 461.2 721.2 466.2 722.5 467.5 M695 460C695.8 460.8 699.2 464.2 700 465 M737.5 435C738.8 437.1 743.8 445.4 745 447.5" fill="none" stroke="#9a6b1b" stroke-width="2" stroke-linecap="round" stroke-linejoin="round" opacity="1"/>
<path d="M373 600.5C373.2 597 374.7 593.6 377.5 591.2C380.3 588.9 384.6 587 390 586.5C395.4 586 402.5 587.2 410 588C417.5 588.8 427.1 590.3 435 591.2C442.9 592.2 451.7 593.6 457.5 593.8C463.3 593.9 467.9 592.3 470 592C468.8 590.8 466.2 588.2 462.5 585C458.8 581.8 452.5 576.9 447.5 572.5C442.5 568.1 437.1 563.1 432.5 558.8C427.9 554.4 423.2 550.2 420 546.2C416.8 542.3 414.6 538.5 413.2 535C411.9 531.5 411.5 527.9 412 525C412.5 522.1 413.7 519.8 416.2 517.5C418.8 515.2 422.7 513.1 427.5 511.2C432.3 509.4 439.8 507.9 445 506.2C450.2 504.6 455.4 502.8 458.8 501.2C462.1 499.7 464.1 499.3 465 497C465.9 494.7 464 491 464.2 487.5C464.5 484 464.7 479.4 466.2 476.2C467.8 473.1 470.6 470.8 473.8 468.8C476.9 466.7 480.6 464.8 485 463.8C489.4 462.7 495 462.1 500 462.5C505 462.9 510 464.7 515 466.2C520 467.8 525.4 470.5 530 472C534.6 473.5 538.8 474.9 542.5 475.5C546.2 476.1 548.8 474.8 552.5 475.5C556.2 476.2 561.2 477.3 565 479.5C568.8 481.7 571.9 485.3 575 488.8C578.1 492.2 581.2 496.9 583.8 500C586.2 503.1 588.3 505.8 590 507.5C591.7 509.2 585.4 507.5 593.8 510C602.1 512.5 619.8 522.5 640 522.5C660.2 522.5 681.7 516.2 715 510C748.3 503.8 803.3 480.8 840 485C876.7 489.2 918.8 519.2 935 535C951.2 550.8 936.5 568.7 937 579.5C937.5 590.3 937.5 592.4 938 600C938.5 607.6 939 616.7 940 625C941 633.3 942.1 641.7 943.8 650C945.4 658.3 947.5 667.1 950 675C952.5 682.9 955.8 690.8 958.8 697.5C961.7 704.2 965.7 708.3 967.5 715C969.3 721.7 968.9 732.7 969.4 737.5C969.8 742.3 970.4 742 970.2 743.8C970.1 745.5 969 747.1 968.8 747.8C966.9 748.2 961.5 749.5 957.5 750.2C953.5 751 948.8 751 945 752.2C941.2 753.5 938.1 754.8 935 757.5C931.9 760.2 928.8 765.2 926.2 768.8C923.8 772.3 922.3 775.8 920 778.8C917.7 781.7 915.4 784 912.5 786.2C909.6 788.5 905.8 791.1 902.5 792.5C899.2 793.9 896.2 794.6 892.5 794.4C888.8 794.2 884.2 791.6 880 791.2C875.8 790.9 871.7 791.9 867.5 792.5C863.3 793.1 858.8 794 855 795C851.2 796 847.9 797.5 845 798.8C842.1 800 840.6 802 837.5 802.5C834.4 803 830.8 802.1 826.2 801.9C821.7 801.7 814.8 800.9 810 801.2C805.2 801.6 801.7 802.5 797.5 803.8C793.3 805 789 807.1 785 808.8C781 810.4 777.3 812.6 773.8 813.8C770.2 814.9 768.5 815.4 763.8 815.6C759 815.8 752.3 815.5 745 815C737.7 814.5 727.5 813.3 720 812.5C712.5 811.7 705.8 810.8 700 810C694.2 809.2 690.8 808.9 685 808C679.2 807.1 671.2 805.8 665 804.5C658.8 803.2 652.5 801.4 647.5 800C642.5 798.6 638.3 798.1 635 796.2C631.7 794.4 629.4 792.3 627.5 788.8C625.6 785.2 624.7 780.2 623.8 775C622.8 769.8 622.4 763.3 622 757.5C621.6 751.7 621.5 743.8 621.2 740C621 736.2 619.6 737.3 620.6 735C621.7 732.7 625.7 728.8 627.5 726.2C629.3 723.8 631.5 721.9 631.2 720C631 718.1 629 718.5 626.2 715C623.5 711.5 619 704.4 615 698.8C611 693.1 606.2 686 602.5 681.2C598.8 676.5 595.8 672.8 592.5 670C589.2 667.2 586 665.6 582.5 664.4C579 663.1 575.2 662.5 571.2 662.5C567.3 662.5 562.9 663.2 558.8 664.4C554.6 665.5 550.2 667.9 546.2 669.4C542.3 670.8 538.5 672.7 535 673.1C531.5 673.5 528.3 673 525 671.9C521.7 670.7 518.1 668.2 515 666.2C511.9 664.3 509.4 661.5 506.2 660C503.1 658.5 501 657.7 496.2 657.5C491.5 657.3 483.8 658 477.5 658.8C471.2 659.5 465 661.1 458.8 661.9C452.5 662.6 445.6 663.1 440 663.1C434.4 663.1 430.4 662.8 425 661.9C419.6 660.9 412.3 659.5 407.5 657.5C402.7 655.5 399.6 652.9 396.2 650C392.9 647.1 389.8 643.8 387.5 640C385.2 636.2 384.4 632.1 382.5 627.5C380.6 622.9 377.8 617 376.2 612.5C374.7 608 372.8 604 373 600.5Z" fill="#f0d9a0" stroke="#9a6b1b" stroke-width="4.4" stroke-linejoin="round" stroke-linecap="round" />
<g clip-path="url(#cL_up)"><path d="M650 585C655.8 585.8 675 603.8 690 610C705 616.2 721.2 620 740 622.5C758.8 625 781.7 625.8 802.5 625C823.3 624.2 842.9 622.9 865 617.5C887.1 612.1 923.1 594.2 935 592.5C946.9 590.8 941.7 602.9 936.2 607.5C930.8 612.1 916.5 616.5 902.5 620C888.5 623.5 869.2 626.5 852.5 628.8C835.8 631 821.2 633.5 802.5 633.8C783.8 634 754.6 628.1 740 630C725.4 631.9 724.2 644.2 715 645C705.8 645.8 693.3 638.3 685 635C676.7 631.7 670 630 665 625C660 620 657.5 611.7 655 605C652.5 598.3 644.2 584.2 650 585Z" fill="#fdf8ea" opacity="0.85" filter="url(#b3)"/><path d="M715 652.5C719.2 647.5 744.2 644.6 765 642.5C785.8 640.4 812.5 643.8 840 640C867.5 636.2 913.3 617.5 930 620C946.7 622.5 950.8 647.1 940 655C929.2 662.9 890 665 865 667.5C840 670 810.8 669.2 790 670C769.2 670.8 752.5 675.4 740 672.5C727.5 669.6 710.8 657.5 715 652.5Z" fill="#b89f6c" opacity="0.55" filter="url(#b10)"/><path d="M777.5 690C805 677.1 921.2 677.1 955 685C988.8 692.9 984.6 724.2 980 737.5C975.4 750.8 950.8 757.5 927.5 765C904.2 772.5 862.9 782.9 840 782.5C817.1 782.1 800.4 777.9 790 762.5C779.6 747.1 750 702.9 777.5 690Z" fill="#b89f6c" opacity="0.5" filter="url(#b10)"/><path d="M475 600C480.8 592.5 500 609.2 515 610C530 610.8 552.5 600.8 565 605C577.5 609.2 590 625.8 590 635C590 644.2 577.5 654.6 565 660C552.5 665.4 529.2 668.3 515 667.5C500.8 666.7 486.7 666.2 480 655C473.3 643.8 469.2 607.5 475 600Z" fill="#b89f6c" opacity="0.3" filter="url(#b10)"/><path d="M440 520C445 514.2 463.3 507.5 470 510C476.7 512.5 481.7 526.7 480 535C478.3 543.3 466.7 558.3 460 560C453.3 561.7 443.3 551.7 440 545C436.7 538.3 435 525.8 440 520Z" fill="#b89f6c" opacity="0.25" filter="url(#b10)"/><path d="M552.5 490C557.1 485.8 571.2 492.5 577.5 500C583.8 507.5 592.1 526.7 590 535C587.9 543.3 571.7 551.7 565 550C558.3 548.3 552.1 535 550 525C547.9 515 547.9 494.2 552.5 490Z" fill="#b89f6c" opacity="0.35" filter="url(#b6)"/><path d="M635 725C644.2 715 676.7 708.8 690 715C703.3 721.2 719.2 750 715 762.5C710.8 775 678.3 787.9 665 790C651.7 792.1 640 785.8 635 775C630 764.2 625.8 735 635 725Z" fill="#fcf4df" opacity="0.35" filter="url(#b10)"/></g>
<path d="M637.5 611.2C639.2 614.2 642.9 625.2 647.5 628.8C652.1 632.3 658.8 631.5 665 632.5C671.2 633.5 679.2 632.9 685 635C690.8 637.1 695 642.9 700 645C705 647.1 710.8 648.8 715 647.5C719.2 646.2 720.8 640.4 725 637.5C729.2 634.6 734.2 630.4 740 630C745.8 629.6 756.7 634.2 760 635 M765 636.2C767.5 636.5 773.8 637.9 780 637.5C786.2 637.1 794.6 634.2 802.5 633.8C810.4 633.3 819.2 635.8 827.5 635C835.8 634.2 844.2 630.4 852.5 628.8C860.8 627.1 869.2 626.5 877.5 625C885.8 623.5 894.6 622.1 902.5 620C910.4 617.9 919.4 614.6 925 612.5C930.6 610.4 934.4 608.3 936.2 607.5" fill="none" stroke="#9a6b1b" stroke-width="3" stroke-linecap="round" stroke-linejoin="round" opacity="1"/>
<path d="M845 682.5C846.7 685.8 851.7 696.2 855 702.5C858.3 708.8 863.3 717.1 865 720 M885 675C886.2 678.8 890.4 690 892.5 697.5C894.6 705 896.7 716.2 897.5 720 M910 677.5C911.2 681.2 915.4 692.9 917.5 700C919.6 707.1 921.7 716.7 922.5 720 M927.5 682.5C928.8 685.8 932.9 696.2 935 702.5C937.1 708.8 939.2 717.1 940 720 M797.5 682.5C798.8 684.6 803.8 692.9 805 695" fill="none" stroke="#9a6b1b" stroke-width="1.3" stroke-linecap="round" stroke-linejoin="round" opacity="0.75"/>
<path d="M822.5 700C824.2 704.2 829.2 716.7 832.5 725C835.8 733.3 840.8 745.8 842.5 750 M877.5 700C879.2 703.8 884.2 715 887.5 722.5C890.8 730 895.8 741.2 897.5 745 M905 700C906 703.3 909.6 713.8 911.2 720C912.9 726.2 914.4 734.6 915 737.5 M802.5 750C800.4 751.7 792.1 758.3 790 760" fill="none" stroke="#9a6b1b" stroke-width="1.3" stroke-linecap="round" stroke-linejoin="round" opacity="0.75"/>
<path d="M434.5 544.5C437.5 546.7 445.8 552.8 452.5 557.5C459.2 562.2 468.8 568.5 475 572.5C481.2 576.5 487.5 579.8 490 581.2 M440 540.5C442.9 542.3 451.7 547.4 457.5 551.2C463.3 555.1 472.1 561.7 475 563.8 M475 592.5C477.5 593.2 485.8 596.5 490 596.5C494.2 596.5 498.3 593.2 500 592.5 M572.5 510C571.7 512.1 567.9 518.3 567.5 522.5C567.1 526.7 567.9 532 570 535C572.1 538 577.2 540.9 580 540.5C582.8 540.1 586.1 535.9 587 532.5C587.9 529.1 587.1 523.7 585.5 520C583.9 516.3 578.8 512.1 577.5 510.5 M550 482.5C551.2 482.9 555 483.8 557.5 485C560 486.2 563.1 489.8 565 490C566.9 490.2 568.1 486.9 568.8 486.2 M460 610C465 609.4 480.8 607.1 490 606.2C499.2 605.4 506.7 604.8 515 605C523.3 605.2 535.8 607.1 540 607.5 M415 622.5C416.7 622.2 421.7 620.7 425 620.5C428.3 620.3 433.3 621.1 435 621.2 M510 618.8C512.5 619 520 619.6 525 620C530 620.4 537.5 621 540 621.2 M420 630C420.4 630.8 422.1 634.2 422.5 635" fill="none" stroke="#9a6b1b" stroke-width="2.4" stroke-linecap="round" stroke-linejoin="round" opacity="1"/>
<path d="M587.5 550C588.3 551.7 592.1 556.2 592.5 560C592.9 563.8 590.4 570.4 590 572.5 M595 565C595.4 566.7 597.1 573.3 597.5 575" fill="none" stroke="#9a6b1b" stroke-width="1.6" stroke-linecap="round" stroke-linejoin="round" opacity="1"/>
<circle cx="480.0" cy="477.5" r="1.7" fill="#9a6b1b"/><circle cx="490.0" cy="473.8" r="1.7" fill="#9a6b1b"/><circle cx="495.0" cy="477.5" r="1.7" fill="#9a6b1b"/><circle cx="500.0" cy="482.5" r="1.7" fill="#9a6b1b"/><circle cx="490.0" cy="485.0" r="1.7" fill="#9a6b1b"/><circle cx="480.0" cy="490.0" r="1.7" fill="#9a6b1b"/><circle cx="475.0" cy="495.0" r="1.7" fill="#9a6b1b"/><circle cx="485.0" cy="550.0" r="1.7" fill="#9a6b1b"/><circle cx="490.0" cy="557.5" r="1.7" fill="#9a6b1b"/><circle cx="495.0" cy="565.0" r="1.7" fill="#9a6b1b"/><circle cx="500.0" cy="572.5" r="1.7" fill="#9a6b1b"/><circle cx="505.0" cy="578.8" r="1.7" fill="#9a6b1b"/><circle cx="492.5" cy="572.5" r="1.7" fill="#9a6b1b"/><circle cx="485.0" cy="565.0" r="1.7" fill="#9a6b1b"/><circle cx="652.5" cy="597.5" r="1.7" fill="#9a6b1b"/><circle cx="657.5" cy="605.0" r="1.7" fill="#9a6b1b"/><circle cx="662.5" cy="612.5" r="1.7" fill="#9a6b1b"/><circle cx="650.0" cy="607.5" r="1.7" fill="#9a6b1b"/><circle cx="665.0" cy="620.0" r="1.7" fill="#9a6b1b"/><circle cx="647.5" cy="642.5" r="1.7" fill="#9a6b1b"/><circle cx="655.0" cy="647.5" r="1.7" fill="#9a6b1b"/><circle cx="665.0" cy="650.0" r="1.7" fill="#9a6b1b"/><circle cx="675.0" cy="651.2" r="1.7" fill="#9a6b1b"/><circle cx="685.0" cy="652.5" r="1.7" fill="#9a6b1b"/><circle cx="695.0" cy="653.8" r="1.7" fill="#9a6b1b"/>
<path d="M635 762.5C635.8 764.6 637.5 771.7 640 775C642.5 778.3 648.3 781.2 650 782.5 M655 775C656.2 774.8 661.2 774 662.5 773.8 M690 772.5C691.2 772.9 696.2 774.6 697.5 775 M722.5 790C724.2 789.8 730.8 789 732.5 788.8 M785 775C785.8 774.6 789.2 772.9 790 772.5 M870 785C871.7 784.6 876.7 782.7 880 782.5C883.3 782.3 888.3 783.5 890 783.8 M925 720C925.4 721.7 927.1 728.3 927.5 730 M937.5 722.5C937.7 723.5 938.5 727.7 938.8 728.8" fill="none" stroke="#9a6b1b" stroke-width="2.2" stroke-linecap="round" stroke-linejoin="round" opacity="1"/>
<path d="M593 496.2C592.4 490.2 592.2 489.4 593.8 486.2C595.3 483.1 599.2 480 602.5 477.5C605.8 475 609.2 473 613.8 471.2C618.3 469.5 624.4 468 630 467C635.6 466 642.1 465.1 647.5 465C652.9 464.9 658.5 465 662.5 466.2C666.5 467.5 669.1 469.8 671.2 472.5C673.4 475.2 672.4 476.2 675.5 482.5C678.6 488.8 690.5 498.8 690 510C689.5 521.2 680.2 542 672.5 550C664.8 558 651.2 556.9 643.8 558C636.2 559.1 632.7 557.6 627.5 556.5C622.3 555.4 616.9 553.6 612.5 551.5C608.1 549.4 603.8 548.6 601.2 543.8C598.8 538.9 598.9 530.4 597.5 522.5C596.1 514.6 593.6 502.3 593 496.2Z" fill="#d9ce1e" stroke="#706d0e" stroke-width="4.4" stroke-linejoin="round" stroke-linecap="round" />
<path d="M593 496.2C594.2 497.9 597.2 503.8 600 506.2C602.8 508.8 606.2 510.2 610 511.2C613.8 512.3 618.8 512.7 622.5 512.5C626.2 512.3 628.3 511.2 632.5 510C636.7 508.8 642.5 506.9 647.5 505C652.5 503.1 658.1 501.5 662.5 498.8C666.9 496 671.9 490.4 673.8 488.8 M611.2 512.5C611.5 516.2 612.1 528.7 612.5 535C612.9 541.3 613.5 547.9 613.8 550.5 M631.2 510C631.9 514.2 633.8 527.2 635 535C636.2 542.8 638.1 552.9 638.8 556.5" fill="none" stroke="#706d0e" stroke-width="2.6" stroke-linecap="round" stroke-linejoin="round" opacity="1"/>
<ellipse cx="607.5" cy="490.5" rx="6.5" ry="5.2" fill="#ebe23c" stroke="#706d0e" stroke-width="2"/>
<ellipse cx="620.5" cy="481.8" rx="6.0" ry="4.8" fill="#ebe23c" stroke="#706d0e" stroke-width="2"/>
<ellipse cx="632.0" cy="488.0" rx="7.0" ry="5.6" fill="#ebe23c" stroke="#706d0e" stroke-width="2"/>
<ellipse cx="648.0" cy="478.0" rx="7.0" ry="5.6" fill="#ebe23c" stroke="#706d0e" stroke-width="2"/>
<ellipse cx="658.0" cy="470.5" rx="5.0" ry="4.0" fill="#ebe23c" stroke="#706d0e" stroke-width="2"/>
<ellipse cx="664.0" cy="483.0" rx="6.0" ry="4.8" fill="#ebe23c" stroke="#706d0e" stroke-width="2"/>
<ellipse cx="615.5" cy="500.5" rx="5.5" ry="4.4" fill="#ebe23c" stroke="#706d0e" stroke-width="2"/>
<ellipse cx="643.0" cy="496.5" rx="6.5" ry="5.2" fill="#ebe23c" stroke="#706d0e" stroke-width="2"/>
<ellipse cx="605.0" cy="497.0" rx="4.5" ry="3.6" fill="#ebe23c" stroke="#706d0e" stroke-width="2"/>
<path d="M642.5 520C643.6 516 644.2 511.5 647.5 507.5C650.8 503.5 655.4 500 662.5 496.2C669.6 492.5 679.2 488.1 690 485C700.8 481.9 717.1 480 727.5 477.5C737.9 475 747.1 473.8 752.5 470C757.9 466.2 757.1 460 760 455C762.9 450 765.4 444.5 770 440C774.6 435.5 780 431.2 787.5 428C795 424.8 804.2 422.2 815 420.8C825.8 419.2 840 419.1 852.5 419C865 418.9 878.3 419.2 890 420.2C901.7 421.3 913.3 423 922.5 425.5C931.7 428 938.8 431 945 435.5C951.2 440 955.4 445.5 960 452.5C964.6 459.5 969.8 469.2 972.5 477.5C975.2 485.8 976.1 493.8 976.5 502.5C976.9 511.2 976.9 521.2 975 530C973.1 538.8 969.2 548.2 965 555C960.8 561.8 954.8 566.5 950 570.5C945.2 574.5 942.1 576 936.2 579.2C930.4 582.5 924.8 586.1 915 590C905.2 593.9 890 599.1 877.5 602.5C865 605.9 852.5 608.3 840 610.5C827.5 612.7 815 614.7 802.5 615.5C790 616.3 777.1 616.3 765 615.5C752.9 614.7 740.8 613 730 610.5C719.2 608 709.6 605.1 700 600.5C690.4 595.9 680.4 588.8 672.5 583C664.6 577.2 657.5 571.8 652.5 565.5C647.5 559.2 644.4 551.2 642.5 545.5C640.6 539.8 641 535.5 641 531.2C641 527 641.4 524 642.5 520Z" fill="#7fa1c7" stroke="#5e7892" stroke-width="3.5" stroke-linejoin="round" stroke-linecap="round" />
<g clip-path="url(#cL_ud)"><path d="M643.8 535C642.9 529.2 653.1 548.8 660 555C666.9 561.2 675.8 567.5 685 572.5C694.2 577.5 703.8 581.7 715 585C726.2 588.3 740 591 752.5 592.5C765 594 777.5 594.4 790 593.8C802.5 593.1 815 591 827.5 588.8C840 586.5 852.5 583.5 865 580C877.5 576.5 890.8 572.1 902.5 567.5C914.2 562.9 925.8 557.9 935 552.5C944.2 547.1 950.8 542.1 957.5 535C964.2 527.9 971.2 505.8 975 510C978.8 514.2 985.8 547.5 980 560C974.2 572.5 963.3 575 940 585C916.7 595 873.3 614.2 840 620C806.7 625.8 769.2 625 740 620C710.8 615 681 604.2 665 590C649 575.8 644.6 540.8 643.8 535Z" fill="#8db0d6" opacity="0.8" filter="url(#b3)"/><path d="M710 585C718.3 584.2 745.4 594.8 765 596.2C784.6 597.7 806.7 596.2 827.5 593.8C848.3 591.2 874.6 585.6 890 581.2C905.4 576.9 915.8 566.9 920 567.5C924.2 568.1 922.1 580 915 585C907.9 590 894.2 593.7 877.5 597.5C860.8 601.3 833.8 605.8 815 608C796.2 610.2 781.7 612.1 765 611C748.3 609.9 724.2 605.6 715 601.2C705.8 596.9 701.7 585.8 710 585Z" fill="#e6f1f7" opacity="0.95" filter="url(#b6)"/><path d="M935 435C938.3 435 962.5 452.5 970 465C977.5 477.5 980.8 495 980 510C979.2 525 970.8 546.7 965 555C959.2 563.3 945.8 567.5 945 560C944.2 552.5 959.2 525.8 960 510C960.8 494.2 954.2 477.5 950 465C945.8 452.5 931.7 435 935 435Z" fill="#5f7fa6" opacity="0.55" filter="url(#b6)"/></g>
<path d="M730 515C731.7 518.3 733.3 530.8 740 535C746.7 539.2 757.5 540.5 770 540.5C782.5 540.5 800 538.4 815 535C830 531.6 847.5 526.7 860 520C872.5 513.3 883.7 504.2 890 495C896.3 485.8 898.8 473.8 898 465C897.2 456.2 887.2 446.2 885 442.5 M710 520C712.5 524.2 715.8 538.8 725 545C734.2 551.2 750 556.2 765 557.5C780 558.8 798.3 556.3 815 553C831.7 549.7 850 544.7 865 537.5C880 530.3 896.2 520.8 905 510C913.8 499.2 918 484.2 918 472.5C918 460.8 907.2 445.4 905 440 M690 522.5C692.5 527.5 694.6 544.5 705 552.5C715.4 560.5 734.2 567.9 752.5 570.5C770.8 573.1 794.2 571.4 815 568C835.8 564.6 859.2 558.8 877.5 550C895.8 541.2 914.9 527.9 925 515C935.1 502.1 938.4 485 938 472.5C937.6 460 925.1 445.4 922.5 440 M667.5 525C670.4 530.8 672.9 550.3 685 560C697.1 569.7 718.3 579.2 740 583C761.7 586.8 790 586.8 815 583C840 579.2 869.2 569.7 890 560C910.8 550.3 929.1 538.8 940 525C950.9 511.2 955.5 491.2 955.5 477.5C955.5 463.8 942.6 448.3 940 442.5 M665 510C670 508.3 684.2 502.5 695 500C705.8 497.5 724.2 495.8 730 495 M765 465C769.2 461.7 779.6 450.3 790 445C800.4 439.7 815 435.4 827.5 433C840 430.6 858.8 430.9 865 430.5 M685 512.5C689.2 511.2 701.7 506.7 710 505C718.3 503.3 730.8 502.9 735 502.5 M655 532.5C656.7 535.4 659.2 543.3 665 550C670.8 556.7 685.8 568.8 690 572.5 M902.5 435C905.4 438.3 915.8 447.5 920 455C924.2 462.5 926.2 475.8 927.5 480 M702.5 570C708.8 572.5 725.4 581.9 740 585C754.6 588.1 781.7 588.1 790 588.8" fill="none" stroke="#58728f" stroke-width="1.5" stroke-linecap="round" stroke-linejoin="round" opacity="0.85"/>
<path d="M742.5 510C742.1 506.7 742.1 504.2 745 500C747.9 495.8 754.2 489.6 760 485C765.8 480.4 772.9 476.7 780 472.5C787.1 468.3 795.8 464.1 802.5 460C809.2 455.9 813.8 451 820 448C826.2 445 833.3 443 840 441.8C846.7 440.5 854.2 439.7 860 440.5C865.8 441.3 871.7 443.5 875 446.8C878.3 450 879.6 454.9 880 460C880.4 465.1 879.6 471.7 877.5 477.5C875.4 483.3 872.1 489.6 867.5 495C862.9 500.4 856.2 505.8 850 510C843.8 514.2 837.5 517.7 830 520C822.5 522.3 813.3 523.1 805 524C796.7 524.9 787.5 525.2 780 525.2C772.5 525.2 765.4 524.9 760 524C754.6 523.1 750.4 522.3 747.5 520C744.6 517.7 742.9 513.3 742.5 510Z" fill="url(#nucg)" stroke="#77730f" stroke-width="3.5" stroke-linejoin="round" stroke-linecap="round" />
</g>
<defs><radialGradient id="rnuc" cx="0.5" cy="0.55" r="0.6"><stop offset="0" stop-color="#f72c06"/><stop offset="0.65" stop-color="#f43c0c"/><stop offset="1" stop-color="#f26418"/></radialGradient><linearGradient id="mdg" gradientUnits="userSpaceOnUse" x1="1690" y1="0" x2="1750" y2="0"><stop offset="0" stop-color="#7fa1c7"/><stop offset="1" stop-color="#de2430"/></linearGradient><linearGradient id="rootg" gradientUnits="userSpaceOnUse" x1="1770" y1="690" x2="1890" y2="775"><stop offset="0" stop-color="#f2a61c"/><stop offset="0.45" stop-color="#f0c820"/><stop offset="1" stop-color="#efe424"/></linearGradient><linearGradient id="rootg2" gradientUnits="userSpaceOnUse" x1="1990" y1="740" x2="1900" y2="830"><stop offset="0" stop-color="#d2c71a" stop-opacity="0.9"/><stop offset="0.5" stop-color="#f3e92c" stop-opacity="0.6"/><stop offset="1" stop-color="#d8cd1c" stop-opacity="0.7"/></linearGradient><linearGradient id="lng" gradientUnits="userSpaceOnUse" x1="1840" y1="1040" x2="1900" y2="1000"><stop offset="0" stop-color="#d6cb1c"/><stop offset="0.5" stop-color="#f4ea2c"/><stop offset="1" stop-color="#dcd120"/></linearGradient><clipPath id="cR_low"><path d="M1430 872.5C1426.5 880 1432.5 887.5 1433.8 895C1435 902.5 1437.1 910.4 1437.5 917.5C1437.9 924.6 1437.1 930.8 1436.2 937.5C1435.4 944.2 1433.8 951.2 1432.5 957.5C1431.2 963.8 1430 969.6 1428.8 975C1427.5 980.4 1426.9 985 1425 990C1423.1 995 1418.8 1001.7 1417.5 1005C1416.2 1008.3 1416.9 1007.1 1417.5 1010C1418.1 1012.9 1418.8 1018.3 1421.2 1022.5C1423.8 1026.7 1426.9 1031.2 1432.5 1035C1438.1 1038.8 1446.2 1042.1 1455 1045C1463.8 1047.9 1475 1050.2 1485 1052.5C1495 1054.8 1505 1056.7 1515 1058.8C1525 1060.8 1535 1061.9 1545 1065C1555 1068.1 1565.8 1073.3 1575 1077.5C1584.2 1081.7 1592.5 1086.2 1600 1090C1607.5 1093.8 1613.3 1097.5 1620 1100C1626.7 1102.5 1634.2 1103.9 1640 1105C1645.8 1106.1 1650.4 1106.9 1655 1106.5C1659.6 1106.1 1663.3 1103.6 1667.5 1102.5C1671.7 1101.4 1675.4 1101.5 1680 1100C1684.6 1098.5 1689.6 1096.2 1695 1093.8C1700.4 1091.2 1707.5 1087.7 1712.5 1085C1717.5 1082.3 1720.4 1080.8 1725 1077.5C1729.6 1074.2 1735.8 1069.6 1740 1065C1744.2 1060.4 1746.7 1054.2 1750 1050C1753.3 1045.8 1757.5 1043.8 1760 1040C1762.5 1036.2 1764.6 1031.7 1765 1027.5C1765.4 1023.3 1763.8 1018.8 1762.5 1015C1761.2 1011.2 1759.2 1009.2 1757.5 1005C1755.8 1000.8 1753.1 995 1752.5 990C1751.9 985 1752.1 980 1753.8 975C1755.4 970 1758.5 964.6 1762.5 960C1766.5 955.4 1771.2 951.5 1777.5 947.5C1783.8 943.5 1792.1 939 1800 936.2C1807.9 933.5 1816.7 932.3 1825 931.2C1833.3 930.2 1841.7 929.4 1850 930C1858.3 930.6 1866.7 932.7 1875 935C1883.3 937.3 1891.7 940.4 1900 943.8C1908.3 947.1 1916.7 950.6 1925 955C1933.3 959.4 1943.3 965.4 1950 970C1956.7 974.6 1960.8 978.3 1965 982.5C1969.2 986.7 1972.1 991.4 1975 995C1977.9 998.6 1981.2 1002.5 1982.5 1004C1984.6 1003.8 1990.4 1003.6 1995 1002.5C1999.6 1001.4 2005.4 997.4 2010 997.5C2014.6 997.6 2020.4 1002.1 2022.5 1003C2023.8 1000.4 2029.2 992.2 2030 987.5C2030.8 982.8 2028.8 978.8 2027.5 975C2026.2 971.2 2023.1 968.8 2022.5 965C2021.9 961.2 2024.6 957.1 2023.8 952.5C2022.9 947.9 2019.4 942.1 2017.5 937.5C2015.6 932.9 2012.8 928.3 2012.5 925C2012.2 921.7 2015.9 920.8 2015.5 917.5C2015.1 914.2 2012.6 909.2 2010 905C2007.4 900.8 2003.8 896.7 2000 892.5C1996.2 888.3 1991.7 884.6 1987.5 880C1983.3 875.4 1981.2 870 1975 865C1968.8 860 1966.7 865 1950 850C1933.3 835 1895.8 795.8 1875 775C1854.2 754.2 1849.2 716.7 1825 725C1800.8 733.3 1791.7 804.2 1730 825C1668.3 845.8 1505 842.1 1455 850C1405 857.9 1433.5 865 1430 872.5Z"/></clipPath><clipPath id="cR_up"><path d="M1755 560C1755.8 555.8 1758.3 542.5 1760 535C1761.7 527.5 1762.9 521.7 1765 515C1767.1 508.3 1769.6 501.7 1772.5 495C1775.4 488.3 1779.2 480.8 1782.5 475C1785.8 469.2 1789.6 464.6 1792.5 460C1795.4 455.4 1796.2 450.2 1800 447.5C1803.8 444.8 1807.5 444.6 1815 443.8C1822.5 442.9 1837.9 443.2 1845 442.5C1852.1 441.8 1854.2 440.2 1857.5 439.5C1860.8 438.8 1862.1 437.7 1865 438C1867.9 438.3 1871.2 439.5 1875 441.2C1878.8 443 1883.8 445.8 1887.5 448.8C1891.2 451.7 1895.2 455.6 1897.5 458.8C1899.8 461.9 1900.9 464.5 1901.2 467.5C1901.6 470.5 1899.8 475.4 1899.5 477C1900.8 477.1 1904.1 476.6 1907.5 477.5C1910.9 478.4 1915.8 479.6 1920 482.5C1924.2 485.4 1929.2 489.6 1932.5 495C1935.8 500.4 1938.5 508.3 1940 515C1941.5 521.7 1941.5 527.9 1941.2 535C1941 542.1 1940.2 550.4 1938.8 557.5C1937.3 564.6 1934 573.5 1932.5 577.5C1931 581.5 1930.4 580.6 1930 581.2C1932.9 580.7 1943.3 578.6 1947.5 578C1951.7 577.4 1952.1 576.8 1955 577.5C1957.9 578.2 1960.8 578.8 1965 582.5C1969.2 586.2 1975 594.2 1980 600C1985 605.8 1990.4 612.5 1995 617.5C1999.6 622.5 2004.8 626.2 2007.5 630C2010.2 633.8 2011.3 636.7 2011.5 640C2011.7 643.3 2011.5 647.5 2008.8 650C2006 652.5 2000.6 653.3 1995 655C1989.4 656.7 1982.5 658.1 1975 660C1967.5 661.9 1958.3 664.6 1950 666.2C1941.7 667.9 1933.3 669.2 1925 670C1916.7 670.8 1908.3 671.3 1900 671.2C1891.7 671.2 1883.3 669.9 1875 669.5C1866.7 669.1 1858.3 668.7 1850 668.8C1841.7 668.8 1833.3 669.8 1825 670C1816.7 670.2 1807.5 669.6 1800 670C1792.5 670.4 1785.8 671 1780 672.5C1774.2 674 1769.2 676.2 1765 678.8C1760.8 681.2 1757.3 684 1755 687.5C1752.7 691 1751.5 695.8 1751.2 700C1751 704.2 1754 708.3 1753.8 712.5C1753.5 716.7 1750.2 720.8 1750 725C1749.8 729.2 1751.7 734.2 1752.5 737.5C1753.3 740.8 1755.8 741.2 1755 745C1754.2 748.8 1750.8 755 1747.5 760C1744.2 765 1739.6 770.4 1735 775C1730.4 779.6 1725.8 783.3 1720 787.5C1714.2 791.7 1706.7 796.2 1700 800C1693.3 803.8 1686.7 807.1 1680 810C1673.3 812.9 1666.7 815.4 1660 817.5C1653.3 819.6 1646.7 821.2 1640 822.5C1633.3 823.8 1626.7 825 1620 825C1613.3 825 1606.7 824 1600 822.5C1593.3 821 1586.7 817.4 1580 816.2C1573.3 815.1 1566.7 814.9 1560 815.5C1553.3 816.1 1548.3 818.8 1540 820C1531.7 821.2 1520 823.1 1510 822.5C1500 821.9 1489.2 819.2 1480 816.2C1470.8 813.3 1462.5 809.4 1455 805C1447.5 800.6 1440.4 795 1435 790C1429.6 785 1426 779.2 1422.5 775C1419 770.8 1416.2 768.3 1413.8 765C1411.2 761.7 1409 759.6 1407.5 755C1406 750.4 1405 743.3 1405 737.5C1405 731.7 1406.5 725.8 1407.5 720C1408.5 714.2 1409.6 708.8 1411.2 702.5C1412.9 696.2 1415.4 689.6 1417.5 682.5C1419.6 675.4 1422.5 667.1 1423.8 660C1425 652.9 1425.4 645.8 1425 640C1424.6 634.2 1423.1 629.6 1421.2 625C1419.4 620.4 1416 617.5 1413.8 612.5C1411.5 607.5 1408.8 600.8 1407.5 595C1406.2 589.2 1398.3 585 1406.2 577.5C1414.2 570 1417.7 554.6 1455 550C1492.3 545.4 1584.2 547.5 1630 550C1675.8 552.5 1709.2 563.3 1730 565C1750.8 566.7 1750.8 560.8 1755 560Z"/></clipPath><clipPath id="cR_ud"><path d="M1403.8 520C1404 513.3 1403.5 506.2 1405 500C1406.5 493.8 1409.2 487.9 1412.5 482.5C1415.8 477.1 1420 472.1 1425 467.5C1430 462.9 1435.8 459.2 1442.5 455C1449.2 450.8 1456.7 446.5 1465 442.5C1473.3 438.5 1483.3 434.2 1492.5 431.2C1501.7 428.3 1510.4 426.5 1520 425C1529.6 423.5 1540.8 422.7 1550 422.5C1559.2 422.3 1567.5 422.7 1575 423.8C1582.5 424.8 1589.2 426.5 1595 428.8C1600.8 431 1605.8 434 1610 437.5C1614.2 441 1616.7 445.4 1620 450C1623.3 454.6 1625.8 460.4 1630 465C1634.2 469.6 1639.2 473.8 1645 477.5C1650.8 481.2 1657.9 484.4 1665 487.5C1672.1 490.6 1680.8 493.8 1687.5 496.2C1694.2 498.8 1699.6 500.2 1705 502.5C1710.4 504.8 1715.8 506.7 1720 510C1724.2 513.3 1727.5 517.5 1730 522.5C1732.5 527.5 1734.6 534.2 1735 540C1735.4 545.8 1734.6 552.1 1732.5 557.5C1730.4 562.9 1727.1 567.9 1722.5 572.5C1717.9 577.1 1712.1 580.8 1705 585C1697.9 589.2 1689.2 593.8 1680 597.5C1670.8 601.2 1660.4 604.6 1650 607.5C1639.6 610.4 1629.2 612.5 1617.5 615C1605.8 617.5 1592.5 620.2 1580 622.5C1567.5 624.8 1554.2 627.3 1542.5 628.8C1530.8 630.2 1520.4 631.7 1510 631.2C1499.6 630.8 1489.2 629 1480 626.2C1470.8 623.5 1462.9 619.8 1455 615C1447.1 610.2 1438.8 603.3 1432.5 597.5C1426.2 591.7 1421.7 586.2 1417.5 580C1413.3 573.8 1409.8 566.7 1407.5 560C1405.2 553.3 1404.4 546.7 1403.8 540C1403.1 533.3 1403.5 526.7 1403.8 520Z"/></clipPath><clipPath id="cR_md"><path d="M1403.8 758.8C1398.3 757.5 1399 769 1397.5 775C1396 781 1395 788.3 1395 795C1395 801.7 1396.2 808.8 1397.5 815C1398.8 821.2 1400.4 827.1 1402.5 832.5C1404.6 837.9 1406.7 842.5 1410 847.5C1413.3 852.5 1417.5 857.5 1422.5 862.5C1427.5 867.5 1433.3 872.9 1440 877.5C1446.7 882.1 1454.6 886.5 1462.5 890C1470.4 893.5 1478.8 896.7 1487.5 898.8C1496.2 900.8 1505.4 901.7 1515 902.5C1524.6 903.3 1535 903.8 1545 903.8C1555 903.8 1566.7 903.5 1575 902.5C1583.3 901.5 1589.2 899.6 1595 897.5C1600.8 895.4 1605 892.9 1610 890C1615 887.1 1619.6 882.9 1625 880C1630.4 877.1 1635.8 874.6 1642.5 872.5C1649.2 870.4 1657.1 869.2 1665 867.5C1672.9 865.8 1681.7 864.4 1690 862.5C1698.3 860.6 1707.5 858.3 1715 856.2C1722.5 854.2 1729.2 851.9 1735 850C1740.8 848.1 1745 847.5 1750 845C1755 842.5 1760 839.2 1765 835C1770 830.8 1775.4 824.6 1780 820C1784.6 815.4 1787.5 810.8 1792.5 807.5C1797.5 804.2 1804.6 801.7 1810 800C1815.4 798.3 1820.8 799.6 1825 797.5C1829.2 795.4 1832.7 791.7 1835 787.5C1837.3 783.3 1838.3 777.9 1838.8 772.5C1839.2 767.1 1839 760.4 1837.5 755C1836 749.6 1832.9 744.6 1830 740C1827.1 735.4 1824.2 731.2 1820 727.5C1815.8 723.8 1810 719.8 1805 717.5C1800 715.2 1795 714.2 1790 713.8C1785 713.3 1779.2 714 1775 715C1770.8 716 1767.9 717.5 1765 720C1762.1 722.5 1759.2 726.2 1757.5 730C1755.8 733.8 1759.6 735 1755 742.5C1750.4 750 1750.8 765.4 1730 775C1709.2 784.6 1671.7 796.7 1630 800C1588.3 803.3 1513.3 797.9 1480 795C1446.7 792.1 1442.7 788.5 1430 782.5C1417.3 776.5 1409.2 760 1403.8 758.8Z"/></clipPath><clipPath id="cR_sa"><path d="M1616.2 425C1616.2 420.8 1617.3 418.8 1620 415C1622.7 411.2 1628.3 407.1 1632.5 402.5C1636.7 397.9 1640.8 391.7 1645 387.5C1649.2 383.3 1653.3 380 1657.5 377.5C1661.7 375 1665.8 373.1 1670 372.5C1674.2 371.9 1679.2 372.1 1682.5 373.8C1685.8 375.4 1687.4 378.5 1689.5 382.5C1691.6 386.5 1692.8 392.5 1695 397.5C1697.2 402.5 1699.6 407.9 1702.5 412.5C1705.4 417.1 1708.8 421.2 1712.5 425C1716.2 428.8 1719.2 428.3 1725 435C1730.8 441.7 1742.9 454.2 1747.5 465C1752.1 475.8 1750 489.2 1752.5 500C1755 510.8 1760.2 518.8 1762.5 530C1764.8 541.2 1784.2 561.2 1766.2 567.5C1748.3 573.8 1677.7 581.2 1655 567.5C1632.3 553.8 1635.8 506.2 1630 485C1624.2 463.8 1622.3 450 1620 440C1617.7 430 1616.2 429.2 1616.2 425Z"/></clipPath><clipPath id="cR_bk"><path d="M1800 671.2C1808.3 662.8 1833.3 669.4 1850 669.5C1866.7 669.6 1887.5 671.7 1900 672C1912.5 672.3 1919.2 670.8 1925 671.2C1930.8 671.8 1931.9 672.7 1935 675C1938.1 677.3 1942 681.2 1943.8 685C1945.5 688.8 1946 693.3 1945.5 697.5C1945 701.7 1941.9 707.9 1940.5 710C1939.1 712.1 1936.9 708.8 1937 710C1937.1 711.2 1939.5 714.6 1941.2 717.5C1943 720.4 1944.4 724.2 1947.5 727.5C1950.6 730.8 1955.8 734.2 1960 737.5C1964.2 740.8 1969.3 743.8 1972.5 747.5C1975.7 751.2 1978.6 755.8 1979 760C1979.4 764.2 1977.8 769.2 1975 772.5C1972.2 775.8 1975 779.6 1962.5 780C1950 780.4 1918.8 785.8 1900 775C1881.2 764.2 1866.7 724.2 1850 715C1833.3 705.8 1808.3 727.3 1800 720C1791.7 712.7 1791.7 679.7 1800 671.2Z"/></clipPath><clipPath id="cR_bulb"><path d="M1860 937.5C1868.3 933.3 1908.3 947.9 1925 955C1941.7 962.1 1953.9 971.7 1960 980C1966.1 988.3 1962.3 997.5 1961.5 1005C1960.7 1012.5 1958.2 1019.2 1955 1025C1951.8 1030.8 1947.5 1035.2 1942.5 1040C1937.5 1044.8 1930 1054 1925 1054C1920 1054 1920.8 1052.3 1912.5 1040C1904.2 1027.7 1883.8 997.1 1875 980C1866.2 962.9 1851.7 941.7 1860 937.5Z"/></clipPath><clipPath id="cR_rn"><path d="M1752.5 735C1747.5 729.8 1747.7 722.9 1747.5 716.2C1747.3 709.6 1748.8 701.2 1751.2 695C1753.8 688.8 1758.1 683.1 1762.5 678.8C1766.9 674.4 1771.2 670.6 1777.5 668.8C1783.8 666.9 1793.8 665 1800 667.5C1806.2 670 1809.4 679 1815 683.8C1820.6 688.5 1826.5 691.5 1833.8 696.2C1841 701 1850.4 707.3 1858.8 712.5C1867.1 717.7 1875.4 722.5 1883.8 727.5C1892.1 732.5 1900.4 737.3 1908.8 742.5C1917.1 747.7 1925.4 753.3 1933.8 758.8C1942.1 764.2 1951.5 770.4 1958.8 775C1966 779.6 1972.3 782.5 1977.5 786.2C1982.7 790 1986.2 793.5 1990 797.5C1993.8 801.5 1997.3 805.8 2000 810C2002.7 814.2 2004.6 817.5 2006.2 822.5C2007.9 827.5 2009 835.4 2010 840C2011 844.6 2012.6 845 2012.5 850C2012.4 855 2011.8 864.2 2009.5 870C2007.2 875.8 2003 881.5 1998.8 885C1994.5 888.5 1988.8 890.6 1983.8 891.2C1978.8 891.9 1974 891.2 1968.8 888.8C1963.5 886.2 1957.9 881.7 1952.5 876.2C1947.1 870.8 1942.9 862.3 1936.2 856.2C1929.6 850.2 1917.7 844.2 1912.5 840C1907.3 835.8 1907.7 834.8 1905 831.2C1902.3 827.7 1899.2 823.1 1896.2 818.8C1893.3 814.4 1890.6 809.6 1887.5 805C1884.4 800.4 1881.2 796 1877.5 791.2C1873.8 786.5 1869.2 780.8 1865 776.2C1860.8 771.7 1856.2 767.1 1852.5 763.8C1848.8 760.4 1845 758.1 1842.5 756.2C1840 754.4 1842.1 752.7 1837.5 752.5C1832.9 752.3 1825 755.8 1815 755C1805 754.2 1787.9 750.8 1777.5 747.5C1767.1 744.2 1757.5 740.2 1752.5 735Z"/></clipPath><clipPath id="cR_ln"><path d="M1755.5 1006.2C1752.6 1003.1 1750.7 995.4 1750 990C1749.3 984.6 1749.6 979.1 1751.2 973.8C1752.9 968.4 1756 962.7 1760 958C1764 953.3 1768.7 949.4 1775 945.5C1781.3 941.6 1789.7 937.3 1798 934.5C1806.3 931.7 1815.5 929.7 1825 928.8C1834.5 927.8 1848.5 927.1 1855 928.8C1861.5 930.4 1860.5 933.1 1863.8 938.8C1867 944.4 1870.1 954.4 1874.2 962.5C1878.4 970.6 1883.7 978.8 1888.8 987.5C1893.8 996.2 1899.2 1005.8 1904.5 1015C1909.8 1024.2 1915.1 1033.3 1920.5 1042.5C1925.9 1051.7 1931.7 1061.2 1937 1070C1942.3 1078.8 1947.9 1087.5 1952.5 1095C1957.1 1102.5 1961.2 1109.2 1964.8 1115C1968.3 1120.8 1971.7 1125.4 1973.8 1130C1975.8 1134.6 1976.9 1138.3 1977 1142.5C1977.1 1146.7 1976 1151.4 1974.5 1155C1973 1158.6 1970.8 1162.8 1968 1164C1965.2 1165.2 1961.4 1164.6 1958 1162.5C1954.6 1160.4 1951.8 1156 1947.5 1151.2C1943.2 1146.5 1937.9 1140 1932.5 1133.8C1927.1 1127.5 1921.2 1121 1915 1113.8C1908.8 1106.5 1901.7 1097.7 1895 1090C1888.3 1082.3 1881.7 1075.2 1875 1067.5C1868.3 1059.8 1861.7 1051.5 1855 1043.8C1848.3 1036 1841.9 1029.2 1835 1021.2C1828.1 1013.3 1817.3 1000.4 1813.8 996.2C1812.3 997.1 1808.1 999.8 1805 1001.2C1801.9 1002.7 1799.2 1004 1795 1005C1790.8 1006 1784.6 1006.9 1780 1007.5C1775.4 1008.1 1771.6 1009 1767.5 1008.8C1763.4 1008.5 1758.4 1009.4 1755.5 1006.2Z"/></clipPath></defs>
<g id="rightfig">
<path d="M1616.2 425C1616.2 420.8 1617.3 418.8 1620 415C1622.7 411.2 1628.3 407.1 1632.5 402.5C1636.7 397.9 1640.8 391.7 1645 387.5C1649.2 383.3 1653.3 380 1657.5 377.5C1661.7 375 1665.8 373.1 1670 372.5C1674.2 371.9 1679.2 372.1 1682.5 373.8C1685.8 375.4 1687.4 378.5 1689.5 382.5C1691.6 386.5 1692.8 392.5 1695 397.5C1697.2 402.5 1699.6 407.9 1702.5 412.5C1705.4 417.1 1708.8 421.2 1712.5 425C1716.2 428.8 1719.2 428.3 1725 435C1730.8 441.7 1742.9 454.2 1747.5 465C1752.1 475.8 1750 489.2 1752.5 500C1755 510.8 1760.2 518.8 1762.5 530C1764.8 541.2 1784.2 561.2 1766.2 567.5C1748.3 573.8 1677.7 581.2 1655 567.5C1632.3 553.8 1635.8 506.2 1630 485C1624.2 463.8 1622.3 450 1620 440C1617.7 430 1616.2 429.2 1616.2 425Z" fill="#f0d9a0" stroke="#9a6b1b" stroke-width="4.4" stroke-linejoin="round" stroke-linecap="round" />
<g clip-path="url(#cR_sa)"><path d="M1660 390C1662.9 381.2 1674.6 379.2 1680 382.5C1685.4 385.8 1688.3 401.2 1692.5 410C1696.7 418.8 1707.1 426.7 1705 435C1702.9 443.3 1687.1 460 1680 460C1672.9 460 1665.8 446.7 1662.5 435C1659.2 423.3 1657.1 398.8 1660 390Z" fill="#b89f6c" opacity="0.5" filter="url(#b6)"/><path d="M1650 460C1652.1 452.5 1673.3 448.3 1680 455C1686.7 461.7 1692.1 492.5 1690 500C1687.9 507.5 1674.2 506.7 1667.5 500C1660.8 493.3 1647.9 467.5 1650 460Z" fill="#b89f6c" opacity="0.4" filter="url(#b6)"/></g>
<path d="M1660 422.5C1659.6 420 1657.1 412.5 1657.5 407.5C1657.9 402.5 1660 396.5 1662.5 392.5C1665 388.5 1669.4 385.6 1672.5 383.8C1675.6 381.9 1679.8 381.7 1681.2 381.2 M1670 387.5C1669.4 390 1666.7 397.5 1666.2 402.5C1665.8 407.5 1667.3 415 1667.5 417.5 M1676.2 388.8C1675.6 391 1672.9 397.3 1672.5 402.5C1672.1 407.7 1673.5 417.1 1673.8 420 M1681.2 392.5C1680.8 395 1679 402.5 1678.8 407.5C1678.5 412.5 1679.8 420 1680 422.5 M1632.5 425C1633.8 426.7 1638.3 431.2 1640 435C1641.7 438.8 1642.1 445.4 1642.5 447.5 M1650 420C1650.8 422.1 1653.3 428.8 1655 432.5C1656.7 436.2 1657.9 440 1660 442.5C1662.1 445 1666.2 446.7 1667.5 447.5 M1662.5 432.5C1663.8 433.3 1667.9 437.1 1670 437.5C1672.1 437.9 1674.2 435.4 1675 435 M1655 465C1656.7 464.2 1661.7 461.7 1665 460C1668.3 458.3 1673.3 455.8 1675 455 M1657.5 472.5C1657.7 475.4 1658.5 487.1 1658.8 490" fill="none" stroke="#9a6b1b" stroke-width="2.2" stroke-linecap="round" stroke-linejoin="round" opacity="1"/>
<path d="M1800 671.2C1808.3 662.8 1833.3 669.4 1850 669.5C1866.7 669.6 1887.5 671.7 1900 672C1912.5 672.3 1919.2 670.8 1925 671.2C1930.8 671.8 1931.9 672.7 1935 675C1938.1 677.3 1942 681.2 1943.8 685C1945.5 688.8 1946 693.3 1945.5 697.5C1945 701.7 1941.9 707.9 1940.5 710C1939.1 712.1 1936.9 708.8 1937 710C1937.1 711.2 1939.5 714.6 1941.2 717.5C1943 720.4 1944.4 724.2 1947.5 727.5C1950.6 730.8 1955.8 734.2 1960 737.5C1964.2 740.8 1969.3 743.8 1972.5 747.5C1975.7 751.2 1978.6 755.8 1979 760C1979.4 764.2 1977.8 769.2 1975 772.5C1972.2 775.8 1975 779.6 1962.5 780C1950 780.4 1918.8 785.8 1900 775C1881.2 764.2 1866.7 724.2 1850 715C1833.3 705.8 1808.3 727.3 1800 720C1791.7 712.7 1791.7 679.7 1800 671.2Z" fill="#f0d9a0" stroke="#9a6b1b" stroke-width="4.4" stroke-linejoin="round" stroke-linecap="round" />
<g clip-path="url(#cR_bk)"><path d="M1802.5 670C1817.1 662.5 1916 655.8 1940 662.5C1964 669.2 1952.5 700 1946.2 710C1940 720 1918.1 722.9 1902.5 722.5C1886.9 722.1 1869.2 716.2 1852.5 707.5C1835.8 698.8 1787.9 677.5 1802.5 670Z" fill="#b9a980" opacity="0.85" filter="url(#b6)"/></g>
<path d="M1843.8 673.8C1844.2 676 1842.7 683.8 1846.2 687.5C1849.8 691.2 1858.8 693.5 1865 696.2C1871.2 699 1877.5 701.9 1883.8 703.8C1890 705.6 1899.4 706.9 1902.5 707.5 M1852.5 672.5C1854.6 675 1860.4 682.9 1865 687.5C1869.6 692.1 1877.5 697.9 1880 700 M1887.5 715C1891 714.6 1902.1 713.8 1908.8 712.5C1915.4 711.2 1923.1 710 1927.5 707.5C1931.9 705 1933.8 699.2 1935 697.5 M1902.5 696.2C1904.6 696 1910.8 696.2 1915 695C1919.2 693.8 1925.4 689.8 1927.5 688.8 M1917.5 730C1919.2 730.8 1923.8 734 1927.5 735C1931.2 736 1937.9 736 1940 736.2 M1946.2 740C1948.3 740.8 1955.2 742.5 1958.8 745C1962.3 747.5 1965.8 751.5 1967.5 755C1969.2 758.5 1968.5 764.4 1968.8 766.2 M1931.2 672.5C1931.9 674.6 1934.8 680.8 1935 685C1935.2 689.2 1932.9 695.4 1932.5 697.5" fill="none" stroke="#9a6b1b" stroke-width="2.4" stroke-linecap="round" stroke-linejoin="round" opacity="1"/>
<path d="M1860 937.5C1868.3 933.3 1908.3 947.9 1925 955C1941.7 962.1 1953.9 971.7 1960 980C1966.1 988.3 1962.3 997.5 1961.5 1005C1960.7 1012.5 1958.2 1019.2 1955 1025C1951.8 1030.8 1947.5 1035.2 1942.5 1040C1937.5 1044.8 1930 1054 1925 1054C1920 1054 1920.8 1052.3 1912.5 1040C1904.2 1027.7 1883.8 997.1 1875 980C1866.2 962.9 1851.7 941.7 1860 937.5Z" fill="#f0d9a0" stroke="#9a6b1b" stroke-width="4.4" stroke-linejoin="round" stroke-linecap="round" />
<g clip-path="url(#cR_bulb)"><path d="M1862.5 942.5C1870.8 938.3 1910.4 948.8 1925 955C1939.6 961.2 1947.9 970.8 1950 980C1952.1 989.2 1945.8 1005.8 1937.5 1010C1929.2 1014.2 1910.4 1010 1900 1005C1889.6 1000 1881.2 990.4 1875 980C1868.8 969.6 1854.2 946.7 1862.5 942.5Z" fill="#b3a074" opacity="0.8" filter="url(#b10)"/></g>
<path d="M1890 962.5C1893.8 964.6 1905.4 970.8 1912.5 975C1919.6 979.2 1927.5 983.8 1932.5 987.5C1937.5 991.2 1940.8 995.8 1942.5 997.5 M1900 955C1904.2 957.1 1918.3 963.3 1925 967.5C1931.7 971.7 1937.5 977.9 1940 980" fill="none" stroke="#9a6b1b" stroke-width="1.6" stroke-linecap="round" stroke-linejoin="round" opacity="0.8"/>
<path d="M1755.5 1006.2C1752.6 1003.1 1750.7 995.4 1750 990C1749.3 984.6 1749.6 979.1 1751.2 973.8C1752.9 968.4 1756 962.7 1760 958C1764 953.3 1768.7 949.4 1775 945.5C1781.3 941.6 1789.7 937.3 1798 934.5C1806.3 931.7 1815.5 929.7 1825 928.8C1834.5 927.8 1848.5 927.1 1855 928.8C1861.5 930.4 1860.5 933.1 1863.8 938.8C1867 944.4 1870.1 954.4 1874.2 962.5C1878.4 970.6 1883.7 978.8 1888.8 987.5C1893.8 996.2 1899.2 1005.8 1904.5 1015C1909.8 1024.2 1915.1 1033.3 1920.5 1042.5C1925.9 1051.7 1931.7 1061.2 1937 1070C1942.3 1078.8 1947.9 1087.5 1952.5 1095C1957.1 1102.5 1961.2 1109.2 1964.8 1115C1968.3 1120.8 1971.7 1125.4 1973.8 1130C1975.8 1134.6 1976.9 1138.3 1977 1142.5C1977.1 1146.7 1976 1151.4 1974.5 1155C1973 1158.6 1970.8 1162.8 1968 1164C1965.2 1165.2 1961.4 1164.6 1958 1162.5C1954.6 1160.4 1951.8 1156 1947.5 1151.2C1943.2 1146.5 1937.9 1140 1932.5 1133.8C1927.1 1127.5 1921.2 1121 1915 1113.8C1908.8 1106.5 1901.7 1097.7 1895 1090C1888.3 1082.3 1881.7 1075.2 1875 1067.5C1868.3 1059.8 1861.7 1051.5 1855 1043.8C1848.3 1036 1841.9 1029.2 1835 1021.2C1828.1 1013.3 1817.3 1000.4 1813.8 996.2C1812.3 997.1 1808.1 999.8 1805 1001.2C1801.9 1002.7 1799.2 1004 1795 1005C1790.8 1006 1784.6 1006.9 1780 1007.5C1775.4 1008.1 1771.6 1009 1767.5 1008.8C1763.4 1008.5 1758.4 1009.4 1755.5 1006.2Z" fill="url(#lng)" stroke="#706d0e" stroke-width="4.4" stroke-linejoin="round" stroke-linecap="round" />
<path d="M1783.8 961.2C1786.2 964.2 1793.8 972.9 1798.8 978.8C1803.8 984.6 1811.2 993.3 1813.8 996.2 M1770.5 975C1769.8 977.5 1767.3 985 1766.5 990C1765.7 995 1765.7 1002.5 1765.5 1005 M1950 1140C1950.4 1141.7 1952.5 1147.1 1952.5 1150C1952.5 1152.9 1950.4 1156.2 1950 1157.5 M1958.8 1135C1959.4 1137.1 1962.3 1143.8 1962.5 1147.5C1962.7 1151.2 1960.4 1155.8 1960 1157.5" fill="none" stroke="#706d0e" stroke-width="2.4" stroke-linecap="round" stroke-linejoin="round" opacity="1"/>
<path d="M1430 872.5C1426.5 880 1432.5 887.5 1433.8 895C1435 902.5 1437.1 910.4 1437.5 917.5C1437.9 924.6 1437.1 930.8 1436.2 937.5C1435.4 944.2 1433.8 951.2 1432.5 957.5C1431.2 963.8 1430 969.6 1428.8 975C1427.5 980.4 1426.9 985 1425 990C1423.1 995 1418.8 1001.7 1417.5 1005C1416.2 1008.3 1416.9 1007.1 1417.5 1010C1418.1 1012.9 1418.8 1018.3 1421.2 1022.5C1423.8 1026.7 1426.9 1031.2 1432.5 1035C1438.1 1038.8 1446.2 1042.1 1455 1045C1463.8 1047.9 1475 1050.2 1485 1052.5C1495 1054.8 1505 1056.7 1515 1058.8C1525 1060.8 1535 1061.9 1545 1065C1555 1068.1 1565.8 1073.3 1575 1077.5C1584.2 1081.7 1592.5 1086.2 1600 1090C1607.5 1093.8 1613.3 1097.5 1620 1100C1626.7 1102.5 1634.2 1103.9 1640 1105C1645.8 1106.1 1650.4 1106.9 1655 1106.5C1659.6 1106.1 1663.3 1103.6 1667.5 1102.5C1671.7 1101.4 1675.4 1101.5 1680 1100C1684.6 1098.5 1689.6 1096.2 1695 1093.8C1700.4 1091.2 1707.5 1087.7 1712.5 1085C1717.5 1082.3 1720.4 1080.8 1725 1077.5C1729.6 1074.2 1735.8 1069.6 1740 1065C1744.2 1060.4 1746.7 1054.2 1750 1050C1753.3 1045.8 1757.5 1043.8 1760 1040C1762.5 1036.2 1764.6 1031.7 1765 1027.5C1765.4 1023.3 1763.8 1018.8 1762.5 1015C1761.2 1011.2 1759.2 1009.2 1757.5 1005C1755.8 1000.8 1753.1 995 1752.5 990C1751.9 985 1752.1 980 1753.8 975C1755.4 970 1758.5 964.6 1762.5 960C1766.5 955.4 1771.2 951.5 1777.5 947.5C1783.8 943.5 1792.1 939 1800 936.2C1807.9 933.5 1816.7 932.3 1825 931.2C1833.3 930.2 1841.7 929.4 1850 930C1858.3 930.6 1866.7 932.7 1875 935C1883.3 937.3 1891.7 940.4 1900 943.8C1908.3 947.1 1916.7 950.6 1925 955C1933.3 959.4 1943.3 965.4 1950 970C1956.7 974.6 1960.8 978.3 1965 982.5C1969.2 986.7 1972.1 991.4 1975 995C1977.9 998.6 1981.2 1002.5 1982.5 1004C1984.6 1003.8 1990.4 1003.6 1995 1002.5C1999.6 1001.4 2005.4 997.4 2010 997.5C2014.6 997.6 2020.4 1002.1 2022.5 1003C2023.8 1000.4 2029.2 992.2 2030 987.5C2030.8 982.8 2028.8 978.8 2027.5 975C2026.2 971.2 2023.1 968.8 2022.5 965C2021.9 961.2 2024.6 957.1 2023.8 952.5C2022.9 947.9 2019.4 942.1 2017.5 937.5C2015.6 932.9 2012.8 928.3 2012.5 925C2012.2 921.7 2015.9 920.8 2015.5 917.5C2015.1 914.2 2012.6 909.2 2010 905C2007.4 900.8 2003.8 896.7 2000 892.5C1996.2 888.3 1991.7 884.6 1987.5 880C1983.3 875.4 1981.2 870 1975 865C1968.8 860 1966.7 865 1950 850C1933.3 835 1895.8 795.8 1875 775C1854.2 754.2 1849.2 716.7 1825 725C1800.8 733.3 1791.7 804.2 1730 825C1668.3 845.8 1505 842.1 1455 850C1405 857.9 1433.5 865 1430 872.5Z" fill="#f0d9a0" stroke="#9a6b1b" stroke-width="4.4" stroke-linejoin="round" stroke-linecap="round" />
<g clip-path="url(#cR_low)"><path d="M1555 917.5C1577.9 903.8 1671.7 903.8 1705 910C1738.3 916.2 1748.8 935 1755 955C1761.2 975 1755 1010 1742.5 1030C1730 1050 1702.9 1070.8 1680 1075C1657.1 1079.2 1623.8 1068.8 1605 1055C1586.2 1041.2 1575.8 1015.4 1567.5 992.5C1559.2 969.6 1532.1 931.2 1555 917.5Z" fill="#b89f6c" opacity="0.42" filter="url(#b16)"/><path d="M1462.5 895C1473.8 895 1506.2 920.8 1530 925C1553.8 929.2 1584.2 924.2 1605 920C1625.8 915.8 1646.7 899.2 1655 900C1663.3 900.8 1665.4 917.1 1655 925C1644.6 932.9 1615.4 943.3 1592.5 947.5C1569.6 951.7 1539.2 953.8 1517.5 950C1495.8 946.2 1471.7 934.2 1462.5 925C1453.3 915.8 1451.2 895 1462.5 895Z" fill="#b89f6c" opacity="0.4" filter="url(#b10)"/><path d="M1750 942.5C1755.8 926.7 1777.1 921.7 1782.5 925C1787.9 928.3 1785.4 948.3 1782.5 962.5C1779.6 976.7 1770.8 1000.4 1765 1010C1759.2 1019.6 1750 1031.2 1747.5 1020C1745 1008.8 1744.2 958.3 1750 942.5Z" fill="#b89f6c" opacity="0.4" filter="url(#b6)"/><path d="M1850 905C1862.5 903.3 1902.1 909.2 1925 917.5C1947.9 925.8 1977.1 944.6 1987.5 955C1997.9 965.4 1997.9 981.7 1987.5 980C1977.1 978.3 1947.9 953.8 1925 945C1902.1 936.2 1862.5 934.2 1850 927.5C1837.5 920.8 1837.5 906.7 1850 905Z" fill="#b89f6c" opacity="0.35" filter="url(#b6)"/><path d="M1705 860C1711.7 851.7 1753.3 848.3 1770 840C1786.7 831.7 1792.9 819.6 1805 810C1817.1 800.4 1834.2 780 1842.5 782.5C1850.8 785 1861.2 809.6 1855 825C1848.8 840.4 1825.8 864.2 1805 875C1784.2 885.8 1746.7 892.5 1730 890C1713.3 887.5 1698.3 868.3 1705 860Z" fill="#e4553a" opacity="0.45" filter="url(#b16)"/><path d="M1445 885C1447.9 883.3 1465 895.8 1480 900C1495 904.2 1516.2 909.2 1535 910C1553.8 910.8 1580.8 904.2 1592.5 905C1604.2 905.8 1611.2 910.4 1605 915C1598.8 919.6 1573.8 930.8 1555 932.5C1536.2 934.2 1507.9 928.8 1492.5 925C1477.1 921.2 1470.4 916.7 1462.5 910C1454.6 903.3 1442.1 886.7 1445 885Z" fill="#fcf4df" opacity="0.6" filter="url(#b3)"/></g>
<path d="M1466.2 900C1465.6 901.5 1461.7 906.2 1462.5 908.8C1463.3 911.3 1466.7 914.9 1471.2 915.5C1475.8 916.1 1484.4 910.9 1490 912.5C1495.6 914.1 1499.2 921.7 1505 925C1510.8 928.3 1517.5 930.8 1525 932.5C1532.5 934.2 1541.7 935.5 1550 935.5C1558.3 935.5 1568.3 934.2 1575 932.5C1581.7 930.8 1585 927.9 1590 925C1595 922.1 1599.2 917.9 1605 915C1610.8 912.1 1618.3 910 1625 907.5C1631.7 905 1641.7 901.2 1645 900 M1485 915C1489.2 915.8 1504.2 917.7 1510 920C1515.8 922.3 1518.3 927.3 1520 928.8 M1650 895C1652.5 894.2 1660 889.6 1665 890C1670 890.4 1675 894.6 1680 897.5C1685 900.4 1691.2 907.1 1695 907.5C1698.8 907.9 1701.2 901.2 1702.5 900 M1695 885C1698.3 883.3 1708.3 875.8 1715 875C1721.7 874.2 1728.3 880.4 1735 880C1741.7 879.6 1749.2 872.5 1755 872.5C1760.8 872.5 1767.5 878.8 1770 880 M1785 875C1788.3 874.2 1799.2 869.2 1805 870C1810.8 870.8 1818.3 876.7 1820 880C1821.7 883.3 1815.8 888.3 1815 890 M1655 907.5C1658.3 907.1 1670 903.3 1675 905C1680 906.7 1680 914.2 1685 917.5C1690 920.8 1701.7 923.8 1705 925 M1630 912.5C1632.5 911.7 1640.8 907.1 1645 907.5C1649.2 907.9 1653.3 913.8 1655 915 M1830 895C1834.2 894.6 1846.7 892.1 1855 892.5C1863.3 892.9 1871.7 895 1880 897.5C1888.3 900 1900.8 905.8 1905 907.5 M1790 860C1793.3 858.3 1804.2 850.8 1810 850C1815.8 849.2 1822.5 854.2 1825 855" fill="none" stroke="#9a6b1b" stroke-width="2.6" stroke-linecap="round" stroke-linejoin="round" opacity="1"/>
<path d="M1467.5 937.5C1466.7 941.7 1463.8 956.2 1462.5 962.5C1461.2 968.8 1460.4 972.9 1460 975 M1487.5 940C1486.9 943.3 1484.6 954.2 1483.8 960C1482.9 965.8 1482.7 972.5 1482.5 975 M1552.5 965C1555.4 964.2 1565 959.6 1570 960C1575 960.4 1579.6 964.2 1582.5 967.5C1585.4 970.8 1586.7 977.9 1587.5 980" fill="none" stroke="#9a6b1b" stroke-width="1.4" stroke-linecap="round" stroke-linejoin="round" opacity="0.8"/>
<path d="M1555 972.5C1556.5 971.9 1561.5 969.2 1563.8 968.8C1566 968.3 1567.9 969.8 1568.8 970 M1525 1000C1525.4 997.9 1525.4 990.8 1527.5 987.5C1529.6 984.2 1535.8 981.2 1537.5 980 M1433.8 997.5C1434.6 997.9 1437.9 999.6 1438.8 1000 M1447.5 1008.8C1448.8 1009 1453.8 1009.8 1455 1010 M1556.2 1017.5C1556.9 1017.9 1559.4 1019.6 1560 1020 M1545 1032.5C1545.8 1033.1 1549.2 1035.6 1550 1036.2 M1565 1025C1565.8 1027.1 1567.9 1033.8 1570 1037.5C1572.1 1041.2 1576.2 1045.8 1577.5 1047.5" fill="none" stroke="#9a6b1b" stroke-width="3" stroke-linecap="round" stroke-linejoin="round" opacity="1"/>
<path d="M1632.5 1065C1633.8 1065.8 1637.9 1069.6 1640 1070C1642.1 1070.4 1644.2 1067.9 1645 1067.5 M1655 1060C1656.2 1061.7 1662.1 1066.7 1662.5 1070C1662.9 1073.3 1658.3 1078.3 1657.5 1080 M1680 1065C1681.2 1065.8 1686.2 1069.2 1687.5 1070 M1712.5 1055C1714.2 1054.6 1718.8 1054.2 1722.5 1052.5C1726.2 1050.8 1732.9 1046.2 1735 1045 M1635 1077.5C1636.2 1077.9 1641.2 1079.6 1642.5 1080 M1660 1085C1661.2 1084.2 1666.2 1080.8 1667.5 1080" fill="none" stroke="#9a6b1b" stroke-width="2.4" stroke-linecap="round" stroke-linejoin="round" opacity="1"/>
<path d="M1852.5 917.5C1856.2 917.9 1871.2 919.6 1875 920 M1890 925C1892.9 925.8 1904.6 929.2 1907.5 930 M1920 933.8C1922.5 934.8 1932.5 939 1935 940 M1965 952.5C1970 955 1990 965 1995 967.5 M1875 927.5C1878.3 928.5 1891.7 932.7 1895 933.8 M1937.5 950C1940 951.2 1950 956.2 1952.5 957.5 M1972.5 965C1975.4 966.7 1987.1 973.3 1990 975" fill="none" stroke="#9a6b1b" stroke-width="2.4" stroke-linecap="round" stroke-linejoin="round" opacity="0.9"/>
<path d="M1872.5 835C1872.1 830.8 1874.6 825.4 1877.5 822.5C1880.4 819.6 1885.4 817.9 1890 817.5C1894.6 817.1 1901.2 817.9 1905 820C1908.8 822.1 1911.9 826.2 1912.5 830C1913.1 833.8 1911.7 839.3 1908.8 842.5C1905.8 845.7 1899.8 848.3 1895 849.2C1890.2 850.2 1883.8 850.4 1880 848C1876.2 845.6 1872.9 839.2 1872.5 835Z" fill="#e9edf2" stroke="#9a6b1b" stroke-width="4.4" stroke-linejoin="round" stroke-linecap="round" />
<path d="M1867.5 785C1865.6 787.5 1858.7 794.6 1856.2 800C1853.8 805.4 1852.6 810.8 1853 817.5C1853.4 824.2 1855.1 833.5 1858.8 840C1862.4 846.5 1867.3 854.2 1875 856.2C1882.7 858.3 1900 853.1 1905 852.5 M1882.5 800C1880.8 801.7 1875 806.2 1872.5 810C1870 813.8 1868.3 820.4 1867.5 822.5" fill="none" stroke="#9a6b1b" stroke-width="2.6" stroke-linecap="round" stroke-linejoin="round" opacity="1"/>
<path d="M1752.5 735C1747.5 729.8 1747.7 722.9 1747.5 716.2C1747.3 709.6 1748.8 701.2 1751.2 695C1753.8 688.8 1758.1 683.1 1762.5 678.8C1766.9 674.4 1771.2 670.6 1777.5 668.8C1783.8 666.9 1793.8 665 1800 667.5C1806.2 670 1809.4 679 1815 683.8C1820.6 688.5 1826.5 691.5 1833.8 696.2C1841 701 1850.4 707.3 1858.8 712.5C1867.1 717.7 1875.4 722.5 1883.8 727.5C1892.1 732.5 1900.4 737.3 1908.8 742.5C1917.1 747.7 1925.4 753.3 1933.8 758.8C1942.1 764.2 1951.5 770.4 1958.8 775C1966 779.6 1972.3 782.5 1977.5 786.2C1982.7 790 1986.2 793.5 1990 797.5C1993.8 801.5 1997.3 805.8 2000 810C2002.7 814.2 2004.6 817.5 2006.2 822.5C2007.9 827.5 2009 835.4 2010 840C2011 844.6 2012.6 845 2012.5 850C2012.4 855 2011.8 864.2 2009.5 870C2007.2 875.8 2003 881.5 1998.8 885C1994.5 888.5 1988.8 890.6 1983.8 891.2C1978.8 891.9 1974 891.2 1968.8 888.8C1963.5 886.2 1957.9 881.7 1952.5 876.2C1947.1 870.8 1942.9 862.3 1936.2 856.2C1929.6 850.2 1917.7 844.2 1912.5 840C1907.3 835.8 1907.7 834.8 1905 831.2C1902.3 827.7 1899.2 823.1 1896.2 818.8C1893.3 814.4 1890.6 809.6 1887.5 805C1884.4 800.4 1881.2 796 1877.5 791.2C1873.8 786.5 1869.2 780.8 1865 776.2C1860.8 771.7 1856.2 767.1 1852.5 763.8C1848.8 760.4 1845 758.1 1842.5 756.2C1840 754.4 1842.1 752.7 1837.5 752.5C1832.9 752.3 1825 755.8 1815 755C1805 754.2 1787.9 750.8 1777.5 747.5C1767.1 744.2 1757.5 740.2 1752.5 735Z" fill="url(#rootg)" stroke="#706d0e" stroke-width="5.0" stroke-linejoin="round" stroke-linecap="round" />
<g clip-path="url(#cR_rn)"><path d="M1875 762.5C1879.2 758.8 1908.3 773.3 1925 782.5C1941.7 791.7 1962.5 806.2 1975 817.5C1987.5 828.8 2000 837.9 2000 850C2000 862.1 1983.3 885.8 1975 890C1966.7 894.2 1957.5 883.3 1950 875C1942.5 866.7 1938.3 851.7 1930 840C1921.7 828.3 1909.2 817.9 1900 805C1890.8 792.1 1870.8 766.2 1875 762.5Z" fill="#f6ec30" opacity="0.55" filter="url(#b6)"/><path d="M1955 782.5C1957.9 781.7 1989.2 800.4 2000 812.5C2010.8 824.6 2020 841.2 2020 855C2020 868.8 2007.5 887.5 2000 895C1992.5 902.5 1975 906.7 1975 900C1975 893.3 1998.8 868.8 2000 855C2001.2 841.2 1990 829.6 1982.5 817.5C1975 805.4 1952.1 783.3 1955 782.5Z" fill="#cfc418" opacity="0.6" filter="url(#b6)"/></g>
<path d="M1776.2 697.5C1778.5 697 1785.6 694.6 1790 694.4C1794.4 694.2 1798.3 695.1 1802.5 696.2C1806.7 697.4 1811.2 699 1815 701.2C1818.8 703.5 1822.1 706.9 1825 710C1827.9 713.1 1830.2 716.5 1832.5 720C1834.8 723.5 1835.8 728.1 1838.8 731.2C1841.7 734.4 1847.3 736.7 1850 738.8C1852.7 740.8 1854.2 742.9 1855 743.8 M1820 707.5C1821.2 709 1825.6 713.3 1827.5 716.2C1829.4 719.2 1830.6 723.5 1831.2 725" fill="none" stroke="#706d0e" stroke-width="2.2" stroke-linecap="round" stroke-linejoin="round" opacity="1"/>
<path d="M1971.8 798.8C1970.3 801 1965.3 806.9 1963 812.5C1960.7 818.1 1958.9 825.4 1958 832.5C1957.1 839.6 1956.9 847.9 1957.5 855C1958.1 862.1 1960.8 871.7 1961.5 875" fill="none" stroke="#706d0e" stroke-width="2.2" stroke-linecap="round" stroke-linejoin="round" opacity="1"/>
<path d="M1403.8 758.8C1398.3 757.5 1399 769 1397.5 775C1396 781 1395 788.3 1395 795C1395 801.7 1396.2 808.8 1397.5 815C1398.8 821.2 1400.4 827.1 1402.5 832.5C1404.6 837.9 1406.7 842.5 1410 847.5C1413.3 852.5 1417.5 857.5 1422.5 862.5C1427.5 867.5 1433.3 872.9 1440 877.5C1446.7 882.1 1454.6 886.5 1462.5 890C1470.4 893.5 1478.8 896.7 1487.5 898.8C1496.2 900.8 1505.4 901.7 1515 902.5C1524.6 903.3 1535 903.8 1545 903.8C1555 903.8 1566.7 903.5 1575 902.5C1583.3 901.5 1589.2 899.6 1595 897.5C1600.8 895.4 1605 892.9 1610 890C1615 887.1 1619.6 882.9 1625 880C1630.4 877.1 1635.8 874.6 1642.5 872.5C1649.2 870.4 1657.1 869.2 1665 867.5C1672.9 865.8 1681.7 864.4 1690 862.5C1698.3 860.6 1707.5 858.3 1715 856.2C1722.5 854.2 1729.2 851.9 1735 850C1740.8 848.1 1745 847.5 1750 845C1755 842.5 1760 839.2 1765 835C1770 830.8 1775.4 824.6 1780 820C1784.6 815.4 1787.5 810.8 1792.5 807.5C1797.5 804.2 1804.6 801.7 1810 800C1815.4 798.3 1820.8 799.6 1825 797.5C1829.2 795.4 1832.7 791.7 1835 787.5C1837.3 783.3 1838.3 777.9 1838.8 772.5C1839.2 767.1 1839 760.4 1837.5 755C1836 749.6 1832.9 744.6 1830 740C1827.1 735.4 1824.2 731.2 1820 727.5C1815.8 723.8 1810 719.8 1805 717.5C1800 715.2 1795 714.2 1790 713.8C1785 713.3 1779.2 714 1775 715C1770.8 716 1767.9 717.5 1765 720C1762.1 722.5 1759.2 726.2 1757.5 730C1755.8 733.8 1759.6 735 1755 742.5C1750.4 750 1750.8 765.4 1730 775C1709.2 784.6 1671.7 796.7 1630 800C1588.3 803.3 1513.3 797.9 1480 795C1446.7 792.1 1442.7 788.5 1430 782.5C1417.3 776.5 1409.2 760 1403.8 758.8Z" fill="url(#mdg)" stroke="#5e7892" stroke-width="3.2" stroke-linejoin="round" stroke-linecap="round" />
<g clip-path="url(#cR_md)"><path d="M1412.5 835C1416.7 841.2 1429.2 851.2 1442.5 857.5C1455.8 863.8 1475.8 869.4 1492.5 872.5C1509.2 875.6 1532.1 877.9 1542.5 876.2C1552.9 874.6 1563.3 866 1555 862.5C1546.7 859 1511.2 859.2 1492.5 855C1473.8 850.8 1455 843.3 1442.5 837.5C1430 831.7 1422.5 820.4 1417.5 820C1412.5 819.6 1408.3 828.8 1412.5 835Z" fill="#e2eff7" opacity="0.9" filter="url(#b6)"/><path d="M1395 762.5C1400.8 763.3 1411.7 793.8 1430 805C1448.3 816.2 1475.8 825.8 1505 830C1534.2 834.2 1575.8 832.9 1605 830C1634.2 827.1 1667.5 812.5 1680 812.5C1692.5 812.5 1692.5 823.8 1680 830C1667.5 836.2 1634.2 846.7 1605 850C1575.8 853.3 1534.2 853.3 1505 850C1475.8 846.7 1448.3 838.3 1430 830C1411.7 821.7 1400.8 811.2 1395 800C1389.2 788.8 1389.2 761.7 1395 762.5Z" fill="#6f93bd" opacity="0.45" filter="url(#b6)"/><path d="M1827.5 730C1829.2 730 1837.6 739.4 1840 747.5C1842.4 755.6 1842.5 770.6 1841.9 778.8C1841.2 786.9 1838.9 792.9 1836.2 796.2C1833.6 799.6 1826.9 802.7 1826.2 798.8C1825.6 794.8 1831.9 781 1832.5 772.5C1833.1 764 1830.8 754.6 1830 747.5C1829.2 740.4 1825.8 730 1827.5 730Z" fill="#5a3f86" opacity="0.55" filter="url(#b3)"/></g>
<path d="M1761.2 785C1762.5 785.8 1766.2 787.9 1768.8 790C1771.2 792.1 1775 796.2 1776.2 797.5" fill="none" stroke="#9a2030" stroke-width="2" stroke-linecap="round" stroke-linejoin="round" opacity="1"/>
<path d="M1755 560C1755.8 555.8 1758.3 542.5 1760 535C1761.7 527.5 1762.9 521.7 1765 515C1767.1 508.3 1769.6 501.7 1772.5 495C1775.4 488.3 1779.2 480.8 1782.5 475C1785.8 469.2 1789.6 464.6 1792.5 460C1795.4 455.4 1796.2 450.2 1800 447.5C1803.8 444.8 1807.5 444.6 1815 443.8C1822.5 442.9 1837.9 443.2 1845 442.5C1852.1 441.8 1854.2 440.2 1857.5 439.5C1860.8 438.8 1862.1 437.7 1865 438C1867.9 438.3 1871.2 439.5 1875 441.2C1878.8 443 1883.8 445.8 1887.5 448.8C1891.2 451.7 1895.2 455.6 1897.5 458.8C1899.8 461.9 1900.9 464.5 1901.2 467.5C1901.6 470.5 1899.8 475.4 1899.5 477C1900.8 477.1 1904.1 476.6 1907.5 477.5C1910.9 478.4 1915.8 479.6 1920 482.5C1924.2 485.4 1929.2 489.6 1932.5 495C1935.8 500.4 1938.5 508.3 1940 515C1941.5 521.7 1941.5 527.9 1941.2 535C1941 542.1 1940.2 550.4 1938.8 557.5C1937.3 564.6 1934 573.5 1932.5 577.5C1931 581.5 1930.4 580.6 1930 581.2C1932.9 580.7 1943.3 578.6 1947.5 578C1951.7 577.4 1952.1 576.8 1955 577.5C1957.9 578.2 1960.8 578.8 1965 582.5C1969.2 586.2 1975 594.2 1980 600C1985 605.8 1990.4 612.5 1995 617.5C1999.6 622.5 2004.8 626.2 2007.5 630C2010.2 633.8 2011.3 636.7 2011.5 640C2011.7 643.3 2011.5 647.5 2008.8 650C2006 652.5 2000.6 653.3 1995 655C1989.4 656.7 1982.5 658.1 1975 660C1967.5 661.9 1958.3 664.6 1950 666.2C1941.7 667.9 1933.3 669.2 1925 670C1916.7 670.8 1908.3 671.3 1900 671.2C1891.7 671.2 1883.3 669.9 1875 669.5C1866.7 669.1 1858.3 668.7 1850 668.8C1841.7 668.8 1833.3 669.8 1825 670C1816.7 670.2 1807.5 669.6 1800 670C1792.5 670.4 1785.8 671 1780 672.5C1774.2 674 1769.2 676.2 1765 678.8C1760.8 681.2 1757.3 684 1755 687.5C1752.7 691 1751.5 695.8 1751.2 700C1751 704.2 1754 708.3 1753.8 712.5C1753.5 716.7 1750.2 720.8 1750 725C1749.8 729.2 1751.7 734.2 1752.5 737.5C1753.3 740.8 1755.8 741.2 1755 745C1754.2 748.8 1750.8 755 1747.5 760C1744.2 765 1739.6 770.4 1735 775C1730.4 779.6 1725.8 783.3 1720 787.5C1714.2 791.7 1706.7 796.2 1700 800C1693.3 803.8 1686.7 807.1 1680 810C1673.3 812.9 1666.7 815.4 1660 817.5C1653.3 819.6 1646.7 821.2 1640 822.5C1633.3 823.8 1626.7 825 1620 825C1613.3 825 1606.7 824 1600 822.5C1593.3 821 1586.7 817.4 1580 816.2C1573.3 815.1 1566.7 814.9 1560 815.5C1553.3 816.1 1548.3 818.8 1540 820C1531.7 821.2 1520 823.1 1510 822.5C1500 821.9 1489.2 819.2 1480 816.2C1470.8 813.3 1462.5 809.4 1455 805C1447.5 800.6 1440.4 795 1435 790C1429.6 785 1426 779.2 1422.5 775C1419 770.8 1416.2 768.3 1413.8 765C1411.2 761.7 1409 759.6 1407.5 755C1406 750.4 1405 743.3 1405 737.5C1405 731.7 1406.5 725.8 1407.5 720C1408.5 714.2 1409.6 708.8 1411.2 702.5C1412.9 696.2 1415.4 689.6 1417.5 682.5C1419.6 675.4 1422.5 667.1 1423.8 660C1425 652.9 1425.4 645.8 1425 640C1424.6 634.2 1423.1 629.6 1421.2 625C1419.4 620.4 1416 617.5 1413.8 612.5C1411.5 607.5 1408.8 600.8 1407.5 595C1406.2 589.2 1398.3 585 1406.2 577.5C1414.2 570 1417.7 554.6 1455 550C1492.3 545.4 1584.2 547.5 1630 550C1675.8 552.5 1709.2 563.3 1730 565C1750.8 566.7 1750.8 560.8 1755 560Z" fill="#f0d9a0" stroke="#9a6b1b" stroke-width="4.4" stroke-linejoin="round" stroke-linecap="round" />
<g clip-path="url(#cR_up)"><path d="M1417.5 580C1423.3 579.6 1439.6 601.7 1455 610C1470.4 618.3 1489.2 627.9 1510 630C1530.8 632.1 1556.7 626.2 1580 622.5C1603.3 618.8 1629.2 613.8 1650 607.5C1670.8 601.2 1691.2 593.3 1705 585C1718.8 576.7 1727.1 557.5 1732.5 557.5C1737.9 557.5 1742.1 575.8 1737.5 585C1732.9 594.2 1716.2 605.4 1705 612.5C1693.8 619.6 1682.5 623.3 1670 627.5C1657.5 631.7 1643.3 635 1630 637.5C1616.7 640 1606.7 640.4 1590 642.5C1573.3 644.6 1546.7 649.2 1530 650C1513.3 650.8 1504.2 650 1490 647.5C1475.8 645 1456.7 640.8 1445 635C1433.3 629.2 1424.6 621.7 1420 612.5C1415.4 603.3 1411.7 580.4 1417.5 580Z" fill="#fdf8ea" opacity="0.95" filter="url(#b3)"/><path d="M1815 535C1822.5 534.2 1840 552.5 1855 557.5C1870 562.5 1890.8 567.1 1905 565C1919.2 562.9 1935 542.9 1940 545C1945 547.1 1942.9 569.4 1935 577.5C1927.1 585.6 1907.9 592.3 1892.5 593.8C1877.1 595.2 1856.2 591.5 1842.5 586.2C1828.8 581 1814.6 571 1810 562.5C1805.4 554 1807.5 535.8 1815 535Z" fill="#ad9c70" opacity="0.8" filter="url(#b10)"/><path d="M1790 455C1794.2 450 1817.1 446.7 1830 445C1842.9 443.3 1863.3 441.2 1867.5 445C1871.7 448.8 1865.4 462.5 1855 467.5C1844.6 472.5 1815.8 477.1 1805 475C1794.2 472.9 1785.8 460 1790 455Z" fill="#fcf4df" opacity="0.6" filter="url(#b6)"/><path d="M1900 490C1902.1 483.3 1923.3 492.5 1930 500C1936.7 507.5 1942.1 528.3 1940 535C1937.9 541.7 1924.2 547.5 1917.5 540C1910.8 532.5 1897.9 496.7 1900 490Z" fill="#b89f6c" opacity="0.4" filter="url(#b6)"/><path d="M1542.5 667.5C1555 660.4 1598.8 664.6 1630 655C1661.2 645.4 1711.2 607.1 1730 610C1748.8 612.9 1743.3 654.2 1742.5 672.5C1741.7 690.8 1747.9 712.1 1725 720C1702.1 727.9 1633.3 723.8 1605 720C1576.7 716.2 1565.4 706.2 1555 697.5C1544.6 688.8 1530 674.6 1542.5 667.5Z" fill="#b89f6c" opacity="0.4" filter="url(#b16)"/><path d="M1555 690C1584.2 675.8 1698.8 682.1 1730 690C1761.2 697.9 1750.8 721.2 1742.5 737.5C1734.2 753.8 1702.9 776.2 1680 787.5C1657.1 798.8 1625.8 807.1 1605 805C1584.2 802.9 1563.3 794.2 1555 775C1546.7 755.8 1525.8 704.2 1555 690Z" fill="#b89f6c" opacity="0.35" filter="url(#b16)"/><path d="M1410 647.5C1415.8 636.7 1438.3 642.9 1445 655C1451.7 667.1 1455.8 709.2 1450 720C1444.2 730.8 1416.7 732.1 1410 720C1403.3 707.9 1404.2 658.3 1410 647.5Z" fill="#b89f6c" opacity="0.3" filter="url(#b10)"/><path d="M1770 610C1776.7 602.1 1795 595.8 1805 600C1815 604.2 1832.1 625 1830 635C1827.9 645 1803.3 657.9 1792.5 660C1781.7 662.1 1768.8 655.8 1765 647.5C1761.2 639.2 1763.3 617.9 1770 610Z" fill="#b89f6c" opacity="0.3" filter="url(#b10)"/><path d="M1917.5 655C1944.6 651.7 1952.9 650 1967.5 647.5C1982.1 645 1998.8 637.9 2005 640C2011.2 642.1 2017.5 654.2 2005 660C1992.5 665.8 1963.3 672.5 1930 675C1896.7 677.5 1825.8 676.2 1805 675C1784.2 673.8 1786.2 670.8 1805 667.5C1823.8 664.2 1890.4 658.3 1917.5 655Z" fill="#b89f6c" opacity="0.35" filter="url(#b6)"/><path d="M1692.5 762.5C1697.5 749.2 1723.8 737.9 1735 730C1746.2 722.1 1755 711.7 1760 715C1765 718.3 1767.9 737.9 1765 750C1762.1 762.1 1752.5 777.5 1742.5 787.5C1732.5 797.5 1713.3 814.2 1705 810C1696.7 805.8 1687.5 775.8 1692.5 762.5Z" fill="#e4553a" opacity="0.38" filter="url(#b10)"/></g>
<path d="M1420 612.5C1421.7 614.6 1425.8 621.2 1430 625C1434.2 628.8 1439.6 632.9 1445 635C1450.4 637.1 1457.5 635.8 1462.5 637.5C1467.5 639.2 1470.4 643.3 1475 645C1479.6 646.7 1485 645.8 1490 647.5C1495 649.2 1500 653.3 1505 655C1510 656.7 1515.8 658.3 1520 657.5C1524.2 656.7 1525 651.7 1530 650C1535 648.3 1543.3 647.5 1550 647.5C1556.7 647.5 1563.3 650.8 1570 650C1576.7 649.2 1583.3 643.8 1590 642.5C1596.7 641.2 1603.3 643.3 1610 642.5C1616.7 641.7 1623.3 638.8 1630 637.5C1636.7 636.2 1643.3 636.7 1650 635C1656.7 633.3 1663.8 629.6 1670 627.5C1676.2 625.4 1681.7 625 1687.5 622.5C1693.3 620 1699.6 616.2 1705 612.5C1710.4 608.8 1715.8 603.8 1720 600C1724.2 596.2 1728.3 591.7 1730 590 M1802.5 540C1803.8 542.9 1805.4 552.1 1810 557.5C1814.6 562.9 1822.5 567.7 1830 572.5C1837.5 577.3 1846.2 582.9 1855 586.2C1863.8 589.6 1874.2 591.9 1882.5 592.5C1890.8 593.1 1898.3 592.1 1905 590C1911.7 587.9 1917.9 584.2 1922.5 580C1927.1 575.8 1930.8 567.5 1932.5 565 M1802.5 643.8C1805 643 1810.8 640 1817.5 639.5C1824.2 639 1834.2 641.2 1842.5 640.5C1850.8 639.8 1857.1 637 1867.5 635C1877.9 633 1892.5 631.2 1905 628.8C1917.5 626.2 1932.1 622.3 1942.5 620C1952.9 617.7 1963.3 615.8 1967.5 615 M1870 650C1875.8 649.2 1892.9 647.5 1905 645C1917.1 642.5 1936.2 636.7 1942.5 635" fill="none" stroke="#9a6b1b" stroke-width="3.2" stroke-linecap="round" stroke-linejoin="round" opacity="1"/>
<path d="M1855 500C1857.5 498.3 1864.6 492.5 1870 490C1875.4 487.5 1882.3 487.1 1887.5 485C1892.7 482.9 1899 478.8 1901.2 477.5 M1777.5 503C1778.4 502.5 1781.5 499.6 1783 500C1784.5 500.4 1786.6 503.3 1786.5 505.5C1786.4 507.7 1784 511 1782.5 513C1781 515 1778.3 516.8 1777.5 517.5 M1805 472.5C1805.8 472.1 1809.2 470.4 1810 470 M1855 465C1856.2 464.2 1860.4 460 1862.5 460C1864.6 460 1866.7 464.2 1867.5 465 M1700 555C1701.7 554.6 1707.5 554.2 1710 552.5C1712.5 550.8 1714.2 546.2 1715 545 M1880 510C1878.3 514.2 1872.5 527.5 1870 535C1867.5 542.5 1865.8 551.7 1865 555 M1895 515C1893.8 519.2 1889.6 532.9 1887.5 540C1885.4 547.1 1883.3 554.6 1882.5 557.5 M1910 520C1909.2 523.8 1907.1 535.8 1905 542.5C1902.9 549.2 1898.8 557.1 1897.5 560 M1755 515C1755.8 518.3 1760 529.2 1760 535C1760 540.8 1755.8 547.5 1755 550 M1765 565C1765.4 568.3 1767.9 579.2 1767.5 585C1767.1 590.8 1763.3 597.5 1762.5 600 M1750 570C1750.4 572.5 1752.1 582.5 1752.5 585 M1700 630C1701.7 629.2 1707.5 627.1 1710 625C1712.5 622.9 1714.2 618.8 1715 617.5 M1855 625C1861.2 624 1880 621 1892.5 618.8C1905 616.5 1923.8 612.5 1930 611.2 M1805 655C1809.2 655.4 1825.8 657.1 1830 657.5" fill="none" stroke="#9a6b1b" stroke-width="2.4" stroke-linecap="round" stroke-linejoin="round" opacity="1"/>
<path d="M1645 660C1644.4 665 1642.1 680 1641.2 690C1640.4 700 1640.2 715 1640 720 M1670 655C1671 660.4 1674.6 676.7 1676.2 687.5C1677.9 698.3 1679.4 714.6 1680 720 M1695 647.5C1696.5 653.8 1701.2 672.9 1703.8 685C1706.2 697.1 1709 714.2 1710 720 M1570 660C1570.4 664.2 1572.1 680.8 1572.5 685 M1455 675C1454.6 677.9 1453.8 686.7 1452.5 692.5C1451.2 698.3 1448.3 707.1 1447.5 710 M1440 665C1440.4 666.7 1442.1 673.3 1442.5 675" fill="none" stroke="#9a6b1b" stroke-width="1.4" stroke-linecap="round" stroke-linejoin="round" opacity="0.8"/>
<path d="M1570 705C1571.7 709.2 1576.2 722.5 1580 730C1583.8 737.5 1590.4 746.7 1592.5 750 M1617.5 700C1618.8 704.2 1622.9 717.1 1625 725C1627.1 732.9 1629.2 743.8 1630 747.5 M1667.5 700C1667.9 704.2 1669.6 720.8 1670 725 M1520 705C1519.2 706.7 1515.8 713.3 1515 715 M1480 715C1479.4 716.7 1476.2 722.9 1476.2 725C1476.2 727.1 1479.4 727.1 1480 727.5 M1447.5 717.5C1447.9 719.2 1449.6 725.8 1450 727.5 M1422.5 740C1422.9 741.7 1424.6 748.3 1425 750 M1432.5 757.5C1434.2 758.3 1439.6 762.1 1442.5 762.5C1445.4 762.9 1448.8 760.4 1450 760 M1447.5 775C1448.8 775.8 1453.8 779.2 1455 780 M1540 798.8C1542.5 798.1 1550 795.4 1555 795C1560 794.6 1567.5 796 1570 796.2 M1600 787.5C1602.5 787.1 1610 786.2 1615 785C1620 783.8 1625.8 780.4 1630 780C1634.2 779.6 1635.4 783.3 1640 782.5C1644.6 781.7 1654.6 776.2 1657.5 775 M1640 810C1641.2 809.8 1646.2 809 1647.5 808.8 M1700 762.5C1702.1 761.2 1710.4 756.2 1712.5 755 M1715 750C1718.3 748.8 1731.7 743.8 1735 742.5 M1555 810C1556.7 809.7 1563.3 808.3 1565 808" fill="none" stroke="#9a6b1b" stroke-width="2.8" stroke-linecap="round" stroke-linejoin="round" opacity="1"/>
<path d="M1676.2 455C1676.2 449.2 1677.7 447.9 1680 445C1682.3 442.1 1686.2 439.6 1690 437.5C1693.8 435.4 1698.3 434.4 1702.5 432.5C1706.7 430.6 1711.7 428.5 1715 426.2C1718.3 424 1720.2 420 1722.5 418.8C1724.8 417.5 1727.1 417.3 1728.8 418.8C1730.4 420.2 1730.4 425.4 1732.5 427.5C1734.6 429.6 1738.8 430 1741.2 431.2C1743.8 432.5 1746.2 432.7 1747.5 435C1748.8 437.3 1748.4 438.8 1749 445C1749.6 451.2 1750.5 463.3 1751.2 472.5C1752 481.7 1753.1 490.4 1753.8 500C1754.4 509.6 1755.2 520 1755 530C1754.8 540 1755 554.2 1752.5 560C1750 565.8 1747.9 571.7 1740 565C1732.1 558.3 1714.4 531.7 1705 520C1695.6 508.3 1687.9 501.7 1683.8 495C1679.6 488.3 1681.2 486.7 1680 480C1678.8 473.3 1676.2 460.8 1676.2 455Z" fill="#e4d924" stroke="#706d0e" stroke-width="3" stroke-linejoin="round" stroke-linecap="round" />
<path d="M1688.8 460C1689.2 463.3 1690.5 473.8 1691.2 480C1692 486.2 1692.7 494.2 1693 497 M1705 462.5C1705.8 466.2 1708.2 478.2 1709.5 485C1710.8 491.8 1712.4 500 1713 503 M1723.8 460C1724.8 466.7 1728 487.5 1730 500C1732 512.5 1734.6 529.2 1735.5 535 M1737.5 455C1738.5 463.3 1742 489.2 1743.8 505C1745.5 520.8 1747.3 542.5 1748 550 M1695.5 460C1696 463.3 1697.6 473.5 1698.8 480C1699.9 486.5 1701.9 495.8 1702.5 499 M1714.5 461.2C1715.5 466 1718.5 480.2 1720.5 490C1722.5 499.8 1725.3 515 1726.2 520" fill="none" stroke="#706d0e" stroke-width="2.4" stroke-linecap="round" stroke-linejoin="round" opacity="1"/>
<ellipse cx="1683.8" cy="448.8" rx="6.0" ry="4.8" fill="#ebe23a" stroke="#706d0e" stroke-width="2"/>
<ellipse cx="1695.5" cy="442.5" rx="6.0" ry="4.8" fill="#ebe23a" stroke="#706d0e" stroke-width="2"/>
<ellipse cx="1707.5" cy="436.2" rx="5.5" ry="4.4" fill="#ebe23a" stroke="#706d0e" stroke-width="2"/>
<ellipse cx="1718.0" cy="432.5" rx="5.5" ry="4.4" fill="#ebe23a" stroke="#706d0e" stroke-width="2"/>
<ellipse cx="1726.2" cy="425.5" rx="4.5" ry="3.6" fill="#ebe23a" stroke="#706d0e" stroke-width="2"/>
<ellipse cx="1736.2" cy="435.0" rx="5.5" ry="4.4" fill="#ebe23a" stroke="#706d0e" stroke-width="2"/>
<ellipse cx="1743.8" cy="439.5" rx="4.5" ry="3.6" fill="#ebe23a" stroke="#706d0e" stroke-width="2"/>
<ellipse cx="1702.5" cy="450.0" rx="6.0" ry="4.8" fill="#ebe23a" stroke="#706d0e" stroke-width="2"/>
<ellipse cx="1715.0" cy="446.2" rx="6.0" ry="4.8" fill="#ebe23a" stroke="#706d0e" stroke-width="2"/>
<ellipse cx="1728.8" cy="443.8" rx="6.0" ry="4.8" fill="#ebe23a" stroke="#706d0e" stroke-width="2"/>
<ellipse cx="1691.2" cy="456.2" rx="5.0" ry="4.0" fill="#ebe23a" stroke="#706d0e" stroke-width="2"/>
<ellipse cx="1740.0" cy="448.8" rx="5.0" ry="4.0" fill="#ebe23a" stroke="#706d0e" stroke-width="2"/>
<path d="M1403.8 520C1404 513.3 1403.5 506.2 1405 500C1406.5 493.8 1409.2 487.9 1412.5 482.5C1415.8 477.1 1420 472.1 1425 467.5C1430 462.9 1435.8 459.2 1442.5 455C1449.2 450.8 1456.7 446.5 1465 442.5C1473.3 438.5 1483.3 434.2 1492.5 431.2C1501.7 428.3 1510.4 426.5 1520 425C1529.6 423.5 1540.8 422.7 1550 422.5C1559.2 422.3 1567.5 422.7 1575 423.8C1582.5 424.8 1589.2 426.5 1595 428.8C1600.8 431 1605.8 434 1610 437.5C1614.2 441 1616.7 445.4 1620 450C1623.3 454.6 1625.8 460.4 1630 465C1634.2 469.6 1639.2 473.8 1645 477.5C1650.8 481.2 1657.9 484.4 1665 487.5C1672.1 490.6 1680.8 493.8 1687.5 496.2C1694.2 498.8 1699.6 500.2 1705 502.5C1710.4 504.8 1715.8 506.7 1720 510C1724.2 513.3 1727.5 517.5 1730 522.5C1732.5 527.5 1734.6 534.2 1735 540C1735.4 545.8 1734.6 552.1 1732.5 557.5C1730.4 562.9 1727.1 567.9 1722.5 572.5C1717.9 577.1 1712.1 580.8 1705 585C1697.9 589.2 1689.2 593.8 1680 597.5C1670.8 601.2 1660.4 604.6 1650 607.5C1639.6 610.4 1629.2 612.5 1617.5 615C1605.8 617.5 1592.5 620.2 1580 622.5C1567.5 624.8 1554.2 627.3 1542.5 628.8C1530.8 630.2 1520.4 631.7 1510 631.2C1499.6 630.8 1489.2 629 1480 626.2C1470.8 623.5 1462.9 619.8 1455 615C1447.1 610.2 1438.8 603.3 1432.5 597.5C1426.2 591.7 1421.7 586.2 1417.5 580C1413.3 573.8 1409.8 566.7 1407.5 560C1405.2 553.3 1404.4 546.7 1403.8 540C1403.1 533.3 1403.5 526.7 1403.8 520Z" fill="#7fa1c7" stroke="#5e7892" stroke-width="3.8" stroke-linejoin="round" stroke-linecap="round" />
<g clip-path="url(#cR_ud)"><path d="M1403.8 535C1408.8 535.4 1417.3 564.2 1430 575C1442.7 585.8 1461.2 594.6 1480 600C1498.8 605.4 1521.7 607.5 1542.5 607.5C1563.3 607.5 1584.2 603.8 1605 600C1625.8 596.2 1648.8 591.7 1667.5 585C1686.2 578.3 1706.2 567.5 1717.5 560C1728.8 552.5 1731.2 535.8 1735 540C1738.8 544.2 1753.3 571.7 1740 585C1726.7 598.3 1690 610.8 1655 620C1620 629.2 1565.4 640 1530 640C1494.6 640 1464.2 631.2 1442.5 620C1420.8 608.8 1406.5 586.7 1400 572.5C1393.5 558.3 1398.8 534.6 1403.8 535Z" fill="#8db0d6" opacity="0.8" filter="url(#b3)"/><path d="M1430 560C1434.2 560 1444.6 578.3 1455 585C1465.4 591.7 1477.9 596.5 1492.5 600C1507.1 603.5 1527.9 606 1542.5 606.2C1557.1 606.5 1572.9 599.8 1580 601.2C1587.1 602.7 1591.2 611.5 1585 615C1578.8 618.5 1557.9 621.7 1542.5 622.5C1527.1 623.3 1507.1 622.5 1492.5 620C1477.9 617.5 1465.4 613.3 1455 607.5C1444.6 601.7 1434.2 592.9 1430 585C1425.8 577.1 1425.8 560 1430 560Z" fill="#e4f0f7" opacity="0.95" filter="url(#b6)"/><path d="M1492.5 442.5C1512.1 433.3 1552.9 428.8 1580 435C1607.1 441.2 1638.3 464.2 1655 480C1671.7 495.8 1684.2 515.8 1680 530C1675.8 544.2 1650.8 558.3 1630 565C1609.2 571.7 1577.9 574.2 1555 570C1532.1 565.8 1507.9 553.3 1492.5 540C1477.1 526.7 1462.5 506.2 1462.5 490C1462.5 473.8 1472.9 451.7 1492.5 442.5Z" fill="#d8302c" opacity="0.38" filter="url(#b16)"/><path d="M1485 465C1496.2 454.2 1535 445 1555 445C1575 445 1587.5 453.3 1605 465C1622.5 476.7 1660 500.8 1660 515C1660 529.2 1626.7 545 1605 550C1583.3 555 1549.6 551.7 1530 545C1510.4 538.3 1495 523.3 1487.5 510C1480 496.7 1473.8 475.8 1485 465Z" fill="#9a4a78" opacity="0.32" filter="url(#b10)"/></g>
<g><path d="M1510 410C1520 403.3 1560 400.8 1580 405C1600 409.2 1621.7 425 1630 435C1638.3 445 1638.3 463.8 1630 465C1621.7 466.2 1598.3 445.8 1580 442.5C1561.7 439.2 1531.7 450.4 1520 445C1508.3 439.6 1500 416.7 1510 410Z" fill="#e8888a" opacity="0.35" filter="url(#b16)"/></g>
<path d="M1490 500C1491.7 504.2 1493.3 517.5 1500 525C1506.7 532.5 1516.7 540.4 1530 545C1543.3 549.6 1563.3 552.9 1580 552.5C1596.7 552.1 1616.7 547.1 1630 542.5C1643.3 537.9 1655 527.9 1660 525 M1475 500C1476.7 505.4 1477.5 522.9 1485 532.5C1492.5 542.1 1504.2 551.7 1520 557.5C1535.8 563.3 1560 567.9 1580 567.5C1600 567.1 1623.3 560.8 1640 555C1656.7 549.2 1673.3 536.2 1680 532.5 M1460 500C1461.7 506.7 1461.7 528.3 1470 540C1478.3 551.7 1491.7 563.1 1510 570C1528.3 576.9 1556.7 581.7 1580 581.2C1603.3 580.8 1630 574.4 1650 567.5C1670 560.6 1691.7 544.6 1700 540 M1445 502.5C1446.7 510 1445.8 534.2 1455 547.5C1464.2 560.8 1479.2 574.6 1500 582.5C1520.8 590.4 1553.3 595.4 1580 595C1606.7 594.6 1637.5 587.5 1660 580C1682.5 572.5 1705.8 555 1715 550 M1430 507.5C1431.7 515.4 1430 540.8 1440 555C1450 569.2 1470.8 584 1490 592.5C1509.2 601 1544.2 604 1555 606.2 M1490 480C1493.3 476.7 1502.5 465.4 1510 460C1517.5 454.6 1530.8 449.6 1535 447.5 M1475 480C1478.3 475.8 1486.7 461.7 1495 455C1503.3 448.3 1520 442.5 1525 440 M1460 480C1463.3 475 1470.8 457.9 1480 450C1489.2 442.1 1509.2 435.4 1515 432.5 M1595 442.5C1598.3 445.4 1609.2 453.8 1615 460C1620.8 466.2 1627.5 476.7 1630 480 M1580 432.5C1584.2 435 1597.5 441.7 1605 447.5C1612.5 453.3 1621.7 464.2 1625 467.5 M1645 500C1649.2 501.7 1661.7 506.2 1670 510C1678.3 513.8 1690.8 520.4 1695 522.5 M1655 490C1660 492.1 1675.4 498.3 1685 502.5C1694.6 506.7 1707.9 512.9 1712.5 515 M1417.5 520C1418.3 525.8 1416.2 543.3 1422.5 555C1428.8 566.7 1449.6 584.2 1455 590" fill="none" stroke="#58728f" stroke-width="1.6" stroke-linecap="round" stroke-linejoin="round" opacity="0.85"/>
<path d="M1503.8 485C1503.8 481.2 1504.4 477.9 1506.2 475C1508.1 472.1 1511.5 469.6 1515 467.5C1518.5 465.4 1524 464 1527.5 462.5C1531 461 1534.4 460.6 1536.2 458.8C1538.1 456.9 1537.1 453.1 1538.8 451.2C1540.4 449.4 1543.5 448 1546.2 447.5C1549 447 1551.9 448.2 1555 448C1558.1 447.8 1561.9 446.1 1565 446.2C1568.1 446.4 1571.7 447.3 1573.8 448.8C1575.8 450.2 1575.8 453.3 1577.5 455C1579.2 456.7 1581.9 457.1 1583.8 458.8C1585.6 460.4 1587.9 462.7 1588.8 465C1589.6 467.3 1589.4 470 1588.8 472.5C1588.1 475 1585.2 477.7 1585 480C1584.8 482.3 1585.4 485 1587.5 486.2C1589.6 487.5 1593.8 486.9 1597.5 487.5C1601.2 488.1 1605.8 488.8 1610 490C1614.2 491.2 1618.8 493.1 1622.5 495C1626.2 496.9 1629.6 498.8 1632.5 501.2C1635.4 503.8 1638.5 507.1 1640 510C1641.5 512.9 1641.7 516.5 1641.2 518.8C1640.8 521 1640.2 522.5 1637.5 523.8C1634.8 525 1629.6 525.4 1625 526.2C1620.4 527.1 1615 527.9 1610 528.8C1605 529.6 1600 530.4 1595 531.2C1590 532.1 1585 533.1 1580 533.8C1575 534.4 1570 535.2 1565 535C1560 534.8 1555 533.8 1550 532.5C1545 531.2 1539.6 529.6 1535 527.5C1530.4 525.4 1526.2 522.9 1522.5 520C1518.8 517.1 1515.2 513.8 1512.5 510C1509.8 506.2 1507.7 501.7 1506.2 497.5C1504.8 493.3 1503.8 488.8 1503.8 485Z" fill="url(#rnuc)" stroke="#76560e" stroke-width="3.8" stroke-linejoin="round" stroke-linecap="round" />
<path d="M1552.5 482.5C1552.9 483.8 1552.9 488.2 1555 490C1557.1 491.8 1560.8 492.9 1565 493C1569.2 493.1 1575.8 491.6 1580 490.5C1584.2 489.4 1588.3 487 1590 486.2" fill="none" stroke="#76560e" stroke-width="3" stroke-linecap="round" stroke-linejoin="round" opacity="1"/>
</g>
<g id="logo">
<g fill="none" stroke="#b2181f" stroke-width="5.2" stroke-linejoin="miter" stroke-linecap="butt">
<path d="M151.5 1158.2L189.3 1174.9L189.3 1329.7L151.5 1347.1L113.3 1329.7L113.3 1174.9Z"/>
<path d="M171.5 1167.5L171.5 1279.5 M113.3 1208.7L189.3 1208.7 M137.8 1169.7L115.7 1197.5 M136.9 1169.3L157.8 1205.8L161.1 1208.7 M124.6 1193.6L151.1 1193.6 M136.9 1195.1L137.5 1241.6 M113.3 1248.7L171.5 1248.7 M126.8 1260.9L171.5 1260.9 M137.5 1241.6L161.5 1224.4 M114.6 1224.4L137.5 1241.6 M114.6 1265.2L128.6 1249.9 M114.6 1289.9L168.2 1262.7 M157.2 1272.7L189.3 1289.5"/>
<path d="M158.7 1273.7C158 1276 156.8 1282.2 154.7 1287.3C152.6 1292.5 149.4 1299.5 146.1 1304.5C142.7 1309.5 139.4 1313.3 134.6 1317.4C129.9 1321.5 120.3 1327.2 117.5 1329.1 M129.6 1287.1C130.2 1289 131.2 1295.2 133.2 1298.8C135.2 1302.4 138.4 1305.2 141.8 1308.8C145.1 1312.4 149.4 1316.9 153.2 1320.2C157 1323.6 160.9 1326.5 164.7 1328.8C168.5 1331.2 172.3 1333.8 176.1 1334.3C179.9 1334.7 185.7 1331.9 187.6 1331.4 M171.1 1294.5C171 1296.4 171.2 1302.6 170.4 1305.9C169.6 1309.3 167.7 1312.3 166.1 1314.5C164.5 1316.7 161.6 1318.3 160.7 1319.1 M116.7 1205.5C117.3 1204.6 118.7 1201.3 120.3 1200.1C122 1198.8 125.7 1198.3 126.8 1197.9 M114.3 1217.2C114.3 1218 114 1220.1 114.3 1221.5C114.6 1222.9 115.7 1224.9 116 1225.5" stroke-linecap="round"/>
</g>
<g font-family='"Liberation Sans", Arial, sans-serif' fill="#0c0c0c">
<text x="214.5" y="1222.2" font-size="31.7" textLength="126.5" lengthAdjust="spacingAndGlyphs">CLÍNICA</text>
<text x="212.5" y="1272.8" font-size="47.6" textLength="429" lengthAdjust="spacingAndGlyphs">DR. HONG JIN PAI</text>
<text x="215" y="1313" font-size="31.7" textLength="239" lengthAdjust="spacingAndGlyphs">&amp; ASSOCIADOS</text>
</g></g>
<g stroke="#141414" stroke-width="2" stroke-linecap="butt">
<line x1="1093.8" y1="393.8" x2="921.0" y2="455.0"/>
<line x1="1285.0" y1="392.5" x2="1457.5" y2="452.5"/>
<line x1="1092.5" y1="577.5" x2="838.0" y2="500.0"/>
<line x1="1285.0" y1="575.8" x2="1550.0" y2="496.0"/>
<line x1="1302.5" y1="777.5" x2="1490.0" y2="858.0"/>
<line x1="1093.8" y1="943.0" x2="830.0" y2="975.0"/>
<line x1="1285.0" y1="941.0" x2="1548.8" y2="975.8"/>
<line x1="2079.5" y1="516.8" x2="1717.6" y2="449.8"/>
<line x1="2079.5" y1="690.0" x2="1898.8" y2="753.8"/>
<line x1="692.5" y1="1157.0" x2="547.5" y2="1091.0"/>
<line x1="1651.5" y1="1105.0" x2="1801.0" y2="764.4"/>
</g>
<g font-family='"Liberation Sans", Arial, Helvetica, sans-serif' fill="#0a0a0a">
<rect x="641.2" y="141" width="286.3" height="108.8" fill="#fae3b8" stroke="#1a1208" stroke-width="2.5"/>
<rect x="1484" y="141" width="286" height="108.8" fill="#fae3b8" stroke="#1a1208" stroke-width="2.5"/>
<text x="673.9" y="221.0" font-size="65.6" textLength="227.1" lengthAdjust="spacingAndGlyphs" stroke="#0a0a0a" stroke-width="2.40" stroke-linejoin="round">NORMAL</text>
<text x="1525.0" y="221.0" font-size="65.6" textLength="201.0" lengthAdjust="spacingAndGlyphs" stroke="#0a0a0a" stroke-width="2.40" stroke-linejoin="round">HERNIA</text>
<text x="1133.5" y="380.2" font-size="57.6" textLength="117.5" lengthAdjust="spacingAndGlyphs" stroke="#0a0a0a" stroke-width="2.00" stroke-linejoin="round">Ânulo</text>
<text x="1114.4" y="442.9" font-size="57.6" textLength="155.1" lengthAdjust="spacingAndGlyphs" stroke="#0a0a0a" stroke-width="2.00" stroke-linejoin="round">Fibroso</text>
<text x="1119.4" y="566.7" font-size="57.6" textLength="145.1" lengthAdjust="spacingAndGlyphs" stroke="#0a0a0a" stroke-width="2.00" stroke-linejoin="round">Núcleo</text>
<text x="1107.9" y="628.7" font-size="57.6" textLength="167.6" lengthAdjust="spacingAndGlyphs" stroke="#0a0a0a" stroke-width="2.00" stroke-linejoin="round">Pulposo</text>
<text x="1049.5" y="753.2" font-size="57.6" textLength="272.5" lengthAdjust="spacingAndGlyphs" stroke="#0a0a0a" stroke-width="2.00" stroke-linejoin="round">Abaulamento</text>
<text x="1106.5" y="815.2" font-size="57.6" textLength="172.0" lengthAdjust="spacingAndGlyphs" stroke="#0a0a0a" stroke-width="2.00" stroke-linejoin="round">de disco</text>
<text x="1122.5" y="941.7" font-size="57.6" textLength="126.1" lengthAdjust="spacingAndGlyphs" stroke="#0a0a0a" stroke-width="2.00" stroke-linejoin="round">Corpo</text>
<text x="1101.0" y="1003.7" font-size="57.6" textLength="183.5" lengthAdjust="spacingAndGlyphs" stroke="#0a0a0a" stroke-width="2.00" stroke-linejoin="round">Vertebral</text>
<text x="2102.0" y="500.4" font-size="57.6" textLength="149.5" lengthAdjust="spacingAndGlyphs" stroke="#0a0a0a" stroke-width="2.00" stroke-linejoin="round">Medula</text>
<text x="2101.9" y="563.0" font-size="57.6" textLength="152.2" lengthAdjust="spacingAndGlyphs" stroke="#0a0a0a" stroke-width="2.00" stroke-linejoin="round">Espinal</text>
<text x="2131.3" y="688.0" font-size="57.6" textLength="95.7" lengthAdjust="spacingAndGlyphs" stroke="#0a0a0a" stroke-width="2.00" stroke-linejoin="round">Raiz</text>
<text x="2053.0" y="749.7" font-size="57.6" textLength="248.5" lengthAdjust="spacingAndGlyphs" stroke="#0a0a0a" stroke-width="2.00" stroke-linejoin="round">Comprimida</text>
<text x="712.9" y="1174.2" font-size="57.6" textLength="124.1" lengthAdjust="spacingAndGlyphs" stroke="#0a0a0a" stroke-width="2.00" stroke-linejoin="round">Nervo</text>
<text x="1439.5" y="1172.2" font-size="57.6" textLength="405.3" lengthAdjust="spacingAndGlyphs" stroke="#0a0a0a" stroke-width="2.00" stroke-linejoin="round">DISCO HERNIADO</text>
</g>
</svg>
</body></html>
